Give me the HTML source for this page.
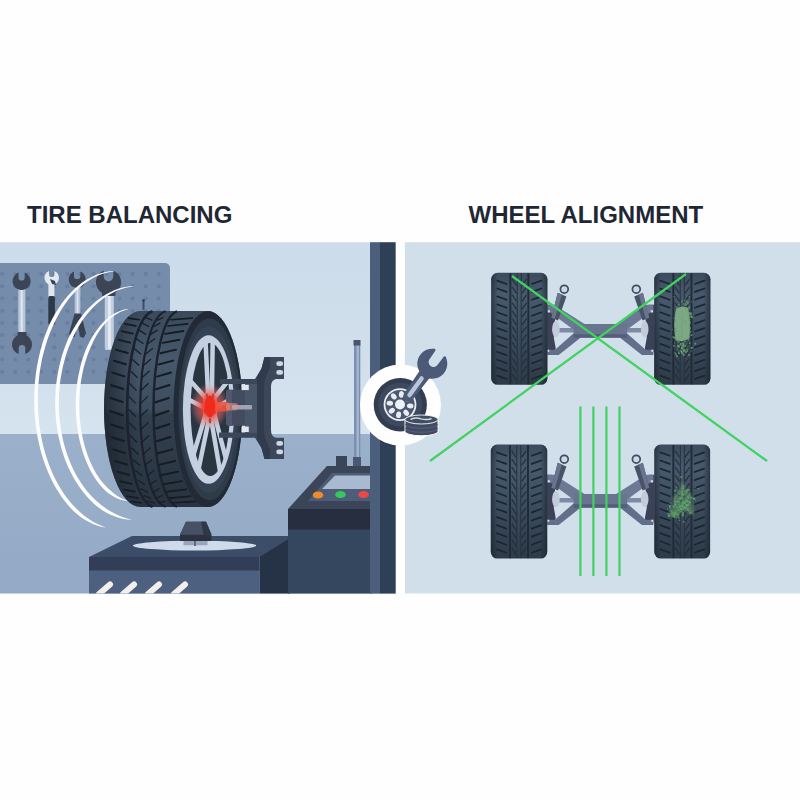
<!DOCTYPE html>
<html><head><meta charset="utf-8"><title>Tire Balancing vs Wheel Alignment</title>
<style>
html,body{margin:0;padding:0;background:#fefefe;}
body{width:800px;height:800px;overflow:hidden;position:relative;font-family:"Liberation Sans",sans-serif;}
svg{position:absolute;left:0;top:0;display:block}
.t{position:absolute;font-weight:700;font-size:24px;line-height:24px;color:#1f2735;white-space:nowrap;transform-origin:0 0;}
</style></head><body>
<svg width="800" height="800" viewBox="0 0 800 800">
<defs>
<radialGradient id="glow" cx="50%" cy="50%" r="50%">
<stop offset="0" stop-color="#ff2a1a" stop-opacity="1"/>
<stop offset="0.35" stop-color="#f2382c" stop-opacity="0.9"/>
<stop offset="0.7" stop-color="#ee6a62" stop-opacity="0.45"/>
<stop offset="1" stop-color="#ee8a84" stop-opacity="0"/>
</radialGradient>
<linearGradient id="wall" x1="0" y1="0" x2="0" y2="1"><stop offset="0" stop-color="#cddcea"/><stop offset="0.6" stop-color="#d1dfec"/><stop offset="1" stop-color="#d6e4f0"/></linearGradient>
<linearGradient id="floor" x1="0" y1="0" x2="0" y2="1"><stop offset="0" stop-color="#9bb0ca"/><stop offset="1" stop-color="#93a9c5"/></linearGradient>
<clipPath id="lp"><rect x="0" y="242.2" width="395.8" height="351.2"/></clipPath>
<clipPath id="rp"><rect x="404.7" y="242.2" width="396" height="351.2"/></clipPath>
<linearGradient id="tv" x1="0" y1="0" x2="0" y2="1"><stop offset="0" stop-color="#3c4c5d"/><stop offset="0.2" stop-color="#485a6e"/><stop offset="0.5" stop-color="#3d4e60"/><stop offset="1" stop-color="#2d3a47"/></linearGradient>
<linearGradient id="th" x1="0" y1="0" x2="1" y2="0"><stop offset="0" stop-color="#141b24" stop-opacity="0.55"/><stop offset="0.12" stop-color="#141b24" stop-opacity="0"/><stop offset="0.88" stop-color="#141b24" stop-opacity="0"/><stop offset="1" stop-color="#141b24" stop-opacity="0.55"/></linearGradient>
<filter id="soft" x="0" y="0" width="800" height="800" filterUnits="userSpaceOnUse"><feGaussianBlur stdDeviation="0.55"/></filter>
<filter id="b1"><feGaussianBlur stdDeviation="0.6"/></filter>
<filter id="b2"><feGaussianBlur stdDeviation="1.2"/></filter>
</defs>
<rect width="800" height="800" fill="#fefefe"/>
<g filter="url(#soft)">

<g clip-path="url(#lp)">
<rect x="0" y="242" width="396" height="192" fill="url(#wall)"/>
<rect x="0" y="434" width="396" height="161" fill="url(#floor)"/>
<path d="M0 263 H165 a5 5 0 0 1 5 5 V384 H0 Z" fill="#768cab"/>
<g fill="#677fa3"><circle cx="2.2" cy="274.0" r="2"/><circle cx="15.3" cy="274.0" r="2"/><circle cx="28.3" cy="274.0" r="2"/><circle cx="41.3" cy="274.0" r="2"/><circle cx="54.4" cy="274.0" r="2"/><circle cx="67.4" cy="274.0" r="2"/><circle cx="80.4" cy="274.0" r="2"/><circle cx="93.5" cy="274.0" r="2"/><circle cx="106.5" cy="274.0" r="2"/><circle cx="119.5" cy="274.0" r="2"/><circle cx="132.5" cy="274.0" r="2"/><circle cx="145.6" cy="274.0" r="2"/><circle cx="158.6" cy="274.0" r="2"/><circle cx="2.2" cy="286.2" r="2"/><circle cx="15.3" cy="286.2" r="2"/><circle cx="28.3" cy="286.2" r="2"/><circle cx="41.3" cy="286.2" r="2"/><circle cx="54.4" cy="286.2" r="2"/><circle cx="67.4" cy="286.2" r="2"/><circle cx="80.4" cy="286.2" r="2"/><circle cx="93.5" cy="286.2" r="2"/><circle cx="106.5" cy="286.2" r="2"/><circle cx="119.5" cy="286.2" r="2"/><circle cx="132.5" cy="286.2" r="2"/><circle cx="145.6" cy="286.2" r="2"/><circle cx="158.6" cy="286.2" r="2"/><circle cx="2.2" cy="298.4" r="2"/><circle cx="15.3" cy="298.4" r="2"/><circle cx="28.3" cy="298.4" r="2"/><circle cx="41.3" cy="298.4" r="2"/><circle cx="54.4" cy="298.4" r="2"/><circle cx="67.4" cy="298.4" r="2"/><circle cx="80.4" cy="298.4" r="2"/><circle cx="93.5" cy="298.4" r="2"/><circle cx="106.5" cy="298.4" r="2"/><circle cx="119.5" cy="298.4" r="2"/><circle cx="132.5" cy="298.4" r="2"/><circle cx="145.6" cy="298.4" r="2"/><circle cx="158.6" cy="298.4" r="2"/><circle cx="2.2" cy="310.7" r="2"/><circle cx="15.3" cy="310.7" r="2"/><circle cx="28.3" cy="310.7" r="2"/><circle cx="41.3" cy="310.7" r="2"/><circle cx="54.4" cy="310.7" r="2"/><circle cx="67.4" cy="310.7" r="2"/><circle cx="80.4" cy="310.7" r="2"/><circle cx="93.5" cy="310.7" r="2"/><circle cx="106.5" cy="310.7" r="2"/><circle cx="119.5" cy="310.7" r="2"/><circle cx="132.5" cy="310.7" r="2"/><circle cx="145.6" cy="310.7" r="2"/><circle cx="158.6" cy="310.7" r="2"/><circle cx="2.2" cy="322.9" r="2"/><circle cx="15.3" cy="322.9" r="2"/><circle cx="28.3" cy="322.9" r="2"/><circle cx="41.3" cy="322.9" r="2"/><circle cx="54.4" cy="322.9" r="2"/><circle cx="67.4" cy="322.9" r="2"/><circle cx="80.4" cy="322.9" r="2"/><circle cx="93.5" cy="322.9" r="2"/><circle cx="106.5" cy="322.9" r="2"/><circle cx="119.5" cy="322.9" r="2"/><circle cx="132.5" cy="322.9" r="2"/><circle cx="145.6" cy="322.9" r="2"/><circle cx="158.6" cy="322.9" r="2"/><circle cx="2.2" cy="335.1" r="2"/><circle cx="15.3" cy="335.1" r="2"/><circle cx="28.3" cy="335.1" r="2"/><circle cx="41.3" cy="335.1" r="2"/><circle cx="54.4" cy="335.1" r="2"/><circle cx="67.4" cy="335.1" r="2"/><circle cx="80.4" cy="335.1" r="2"/><circle cx="93.5" cy="335.1" r="2"/><circle cx="106.5" cy="335.1" r="2"/><circle cx="119.5" cy="335.1" r="2"/><circle cx="132.5" cy="335.1" r="2"/><circle cx="145.6" cy="335.1" r="2"/><circle cx="158.6" cy="335.1" r="2"/><circle cx="2.2" cy="347.3" r="2"/><circle cx="15.3" cy="347.3" r="2"/><circle cx="28.3" cy="347.3" r="2"/><circle cx="41.3" cy="347.3" r="2"/><circle cx="54.4" cy="347.3" r="2"/><circle cx="67.4" cy="347.3" r="2"/><circle cx="80.4" cy="347.3" r="2"/><circle cx="93.5" cy="347.3" r="2"/><circle cx="106.5" cy="347.3" r="2"/><circle cx="119.5" cy="347.3" r="2"/><circle cx="132.5" cy="347.3" r="2"/><circle cx="145.6" cy="347.3" r="2"/><circle cx="158.6" cy="347.3" r="2"/><circle cx="2.2" cy="359.5" r="2"/><circle cx="15.3" cy="359.5" r="2"/><circle cx="28.3" cy="359.5" r="2"/><circle cx="41.3" cy="359.5" r="2"/><circle cx="54.4" cy="359.5" r="2"/><circle cx="67.4" cy="359.5" r="2"/><circle cx="80.4" cy="359.5" r="2"/><circle cx="93.5" cy="359.5" r="2"/><circle cx="106.5" cy="359.5" r="2"/><circle cx="119.5" cy="359.5" r="2"/><circle cx="132.5" cy="359.5" r="2"/><circle cx="145.6" cy="359.5" r="2"/><circle cx="158.6" cy="359.5" r="2"/><circle cx="2.2" cy="371.8" r="2"/><circle cx="15.3" cy="371.8" r="2"/><circle cx="28.3" cy="371.8" r="2"/><circle cx="41.3" cy="371.8" r="2"/><circle cx="54.4" cy="371.8" r="2"/><circle cx="67.4" cy="371.8" r="2"/><circle cx="80.4" cy="371.8" r="2"/><circle cx="93.5" cy="371.8" r="2"/><circle cx="106.5" cy="371.8" r="2"/><circle cx="119.5" cy="371.8" r="2"/><circle cx="132.5" cy="371.8" r="2"/><circle cx="145.6" cy="371.8" r="2"/><circle cx="158.6" cy="371.8" r="2"/></g>
<rect x="18.3" y="288" width="7" height="46" fill="#b9c6d9"/><rect x="20.6" y="288" width="2.2" height="46" fill="#dde5ef"/>
<rect x="17.5" y="332" width="9" height="6" fill="#3b4557"/>
<path d="M18.5 272.6 A9 9 0 1 0 24.7 272.6 L24.7 277.4 A3.1 3.1 0 0 1 18.5 277.4 Z" fill="#3b4557"/>
<path d="M18.7 353.9 A10 10 0 1 1 25.3 353.9 L25.3 348.3 A3.3 3.3 0 0 0 18.7 348.3 Z" fill="#3b4557"/>
<rect x="48.4" y="283" width="6" height="16" fill="#dfe6ef"/>
<path d="M49.0 271.0 A7.3 7.3 0 1 0 54.4 271.0 L54.4 274.4 A2.7 2.7 0 0 1 49.0 274.4 Z" fill="#e4eaf2"/>
<path d="M50 279 l5 2 l1 4 l-4 -1 Z" fill="#3a4457"/>
<rect x="48.3" y="296" width="6.6" height="28.500" rx="1.500" fill="#2e3849"/>
<rect x="74.700" y="287" width="5.700" height="28" fill="#b3c1d6"/><rect x="76.600" y="287" width="1.800" height="28" fill="#d9e2ed"/>
<path d="M74.0 271.6 A8.5 8.5 0 1 0 80.4 271.6 L80.4 275.9 A3.2 3.2 0 0 1 74.0 275.9 Z" fill="#3b4557"/>
<path d="M74.500 313.500 h6.500 l5 20 l-2.500 4.500 l-3.500 -1.500 l-2.500 -14 l-2.500 14 l-3.500 1.500 l-2.500 -4.500 Z" fill="#394355"/>
<rect x="104.800" y="294" width="9" height="56" rx="1.500" fill="#c3cfe0"/><rect x="108" y="294" width="2.800" height="55" fill="#e4ebf3"/>
<rect x="102" y="289" width="13.500" height="7" rx="1" fill="#3b4557"/>
<path d="M103.7 270.4 A12.6 12.6 0 1 0 113.3 270.4 L113.3 276.6 A4.8 4.8 0 0 1 103.7 276.6 Z" fill="#3b4557"/>
<rect x="142.500" y="301" width="2" height="9" rx="1" fill="#434c60"/><circle cx="143.500" cy="300.500" r="1.300" fill="#2f394a"/>
<path d="M105.1 527.6 L101.1 526.8 L97.0 525.5 L93.0 524.0 L89.1 522.1 L85.2 519.9 L81.3 517.4 L77.6 514.6 L74.0 511.4 L70.6 507.9 L67.3 504.2 L64.1 500.2 L61.0 496.0 L58.1 491.5 L55.3 486.9 L52.7 482.0 L50.2 477.0 L47.9 471.7 L45.7 466.3 L43.7 460.7 L41.9 455.0 L40.3 449.2 L38.9 443.2 L37.6 437.2 L36.6 431.1 L35.7 424.8 L35.0 418.6 L34.5 412.2 L34.3 405.9 L34.2 399.5 L34.3 393.2 L34.6 386.8 L35.1 380.5 L35.8 374.3 L36.7 368.1 L37.8 361.9 L39.1 355.9 L40.5 350.0 L42.2 344.1 L44.0 338.5 L46.0 332.9 L48.2 327.5 L50.5 322.3 L53.1 317.3 L55.8 312.5 L58.7 307.9 L61.7 303.6 L64.8 299.4 L68.1 295.5 L71.4 291.9 L74.9 288.5 L78.5 285.5 L82.2 282.6 L86.0 280.1 L89.8 277.9 L93.7 275.9 L97.6 274.3 L101.6 273.0 L105.6 272.0 L109.7 271.3 L113.7 271.0 L113.7 271.4 L109.8 272.0 L105.8 272.9 L102.0 274.1 L98.1 275.6 L94.4 277.3 L90.6 279.4 L87.0 281.7 L83.4 284.3 L80.0 287.2 L76.6 290.3 L73.3 293.7 L70.1 297.3 L67.1 301.2 L64.2 305.3 L61.4 309.6 L58.7 314.2 L56.2 318.9 L53.8 323.9 L51.5 329.0 L49.4 334.2 L47.5 339.6 L45.7 345.2 L44.1 350.9 L42.6 356.7 L41.4 362.6 L40.3 368.6 L39.4 374.7 L38.7 380.9 L38.2 387.1 L37.9 393.3 L37.8 399.6 L37.9 405.8 L38.2 412.0 L38.7 418.2 L39.3 424.4 L40.2 430.5 L41.2 436.5 L42.4 442.5 L43.8 448.3 L45.4 454.0 L47.2 459.6 L49.1 465.0 L51.2 470.3 L53.5 475.4 L55.9 480.3 L58.5 485.1 L61.2 489.6 L64.0 493.9 L67.0 498.0 L70.0 501.8 L73.2 505.4 L76.5 508.8 L79.9 511.9 L83.3 514.9 L86.7 517.6 L90.3 520.0 L93.9 522.2 L97.6 524.1 L101.4 525.8 L105.2 527.2 Z" fill="#fdfdfd"/>
<path d="M130.9 519.7 L126.8 519.4 L122.7 518.7 L118.6 517.7 L114.6 516.3 L110.5 514.7 L106.6 512.7 L102.7 510.5 L98.9 507.8 L95.3 504.9 L91.8 501.7 L88.4 498.3 L85.2 494.6 L82.1 490.7 L79.1 486.6 L76.3 482.3 L73.6 477.7 L71.1 473.0 L68.7 468.2 L66.5 463.1 L64.5 457.9 L62.7 452.6 L61.1 447.2 L59.7 441.6 L58.4 436.0 L57.4 430.3 L56.5 424.5 L55.9 418.6 L55.5 412.8 L55.2 406.9 L55.2 400.9 L55.4 395.0 L55.7 389.1 L56.3 383.3 L57.1 377.5 L58.1 371.7 L59.3 366.1 L60.7 360.5 L62.2 355.0 L64.0 349.6 L65.9 344.4 L68.0 339.3 L70.3 334.4 L72.9 329.7 L75.6 325.2 L78.4 320.8 L81.4 316.7 L84.5 312.8 L87.8 309.1 L91.2 305.7 L94.7 302.5 L98.3 299.6 L102.0 296.9 L105.8 294.5 L109.6 292.4 L113.6 290.6 L117.5 289.1 L121.6 287.8 L125.6 286.9 L129.7 286.3 L133.7 286.0 L133.8 286.3 L129.8 286.9 L125.8 287.8 L121.9 288.9 L118.0 290.3 L114.2 292.0 L110.4 294.0 L106.8 296.2 L103.2 298.6 L99.7 301.4 L96.3 304.3 L93.0 307.5 L89.8 311.0 L86.8 314.6 L83.8 318.5 L81.1 322.6 L78.4 326.9 L75.9 331.4 L73.6 336.0 L71.4 340.8 L69.3 345.8 L67.4 350.8 L65.7 356.1 L64.2 361.4 L62.8 366.9 L61.7 372.4 L60.7 378.0 L59.9 383.7 L59.4 389.4 L59.0 395.2 L58.8 401.0 L58.9 406.8 L59.1 412.6 L59.5 418.3 L60.2 424.0 L61.0 429.7 L62.0 435.3 L63.2 440.8 L64.6 446.2 L66.2 451.5 L68.0 456.7 L69.9 461.8 L72.0 466.6 L74.3 471.4 L76.8 475.9 L79.4 480.3 L82.1 484.5 L85.0 488.5 L88.0 492.2 L91.1 495.8 L94.4 499.1 L97.7 502.1 L101.2 504.9 L104.7 507.5 L108.2 509.9 L111.8 512.1 L115.5 514.1 L119.3 515.8 L123.1 517.2 L127.0 518.4 L131.0 519.4 Z" fill="#fdfdfd"/>
<path d="M127.1 501.0 L124.3 500.6 L121.4 499.9 L118.6 498.9 L115.8 497.7 L113.1 496.3 L110.4 494.6 L107.7 492.7 L105.2 490.5 L102.7 488.0 L100.4 485.4 L98.1 482.5 L95.9 479.5 L93.8 476.3 L91.8 472.9 L89.9 469.4 L88.2 465.8 L86.5 462.0 L84.9 458.0 L83.4 454.0 L82.1 449.8 L80.9 445.6 L79.8 441.2 L78.8 436.7 L78.0 432.2 L77.3 427.6 L76.7 423.0 L76.3 418.3 L75.9 413.6 L75.8 408.9 L75.7 404.1 L75.8 399.4 L76.0 394.7 L76.4 390.0 L76.9 385.3 L77.5 380.7 L78.3 376.1 L79.2 371.7 L80.2 367.2 L81.3 362.9 L82.6 358.7 L84.0 354.5 L85.5 350.5 L87.1 346.7 L88.9 343.0 L90.8 339.4 L92.8 336.0 L94.9 332.7 L97.1 329.7 L99.3 326.8 L101.7 324.1 L104.1 321.6 L106.6 319.3 L109.1 317.2 L111.7 315.3 L114.4 313.6 L117.0 312.2 L119.8 311.0 L122.5 310.0 L125.3 309.3 L128.1 308.9 L128.1 309.2 L125.5 310.0 L122.8 310.9 L120.2 312.0 L117.7 313.4 L115.1 314.9 L112.7 316.7 L110.3 318.6 L107.9 320.8 L105.6 323.1 L103.4 325.6 L101.3 328.3 L99.2 331.2 L97.2 334.3 L95.4 337.5 L93.6 340.8 L91.9 344.4 L90.3 348.0 L88.8 351.8 L87.3 355.7 L86.0 359.7 L84.7 363.9 L83.6 368.1 L82.6 372.4 L81.8 376.8 L81.0 381.2 L80.4 385.8 L79.9 390.3 L79.6 394.9 L79.4 399.5 L79.3 404.2 L79.3 408.8 L79.5 413.4 L79.8 418.0 L80.2 422.6 L80.8 427.1 L81.5 431.6 L82.3 436.0 L83.3 440.4 L84.3 444.6 L85.5 448.8 L86.8 452.8 L88.2 456.8 L89.7 460.6 L91.4 464.3 L93.1 467.8 L94.9 471.2 L96.8 474.4 L98.8 477.5 L100.9 480.4 L103.1 483.1 L105.3 485.6 L107.6 487.9 L109.9 490.0 L112.2 492.1 L114.6 494.0 L117.0 495.7 L119.5 497.2 L122.0 498.5 L124.5 499.6 L127.2 500.6 Z" fill="#fdfdfd"/>
<path d="M89 557 L132 536 H292 V557 Z" fill="#3b4d69"/>
<path d="M259.5 557 L290 538 V595 H259.5 Z" fill="#263244"/>
<rect x="89" y="557" width="170.5" height="14" fill="#303e58"/>
<rect x="89" y="570.5" width="170.5" height="25" fill="#4e6080"/>
<ellipse cx="194.5" cy="545.6" rx="61.7" ry="4.9" fill="#cfdbe8"/>
<rect x="183.5" y="539" width="24" height="6.3" fill="#97a6bd"/><rect x="194" y="539" width="2" height="7" fill="#5d6a82"/>
<path d="M186 521.800 h20 l5.500 13 v6.200 h-31.500 v-6.200 Z" fill="#2b3341"/>
<path d="M186 521.800 h20 l5.500 13 h-31.500 Z" fill="#475166"/><path d="M201 521.800 h5 l5.500 13 h-8 Z" fill="#2f3745"/>
<path d="M99 594 L110 584.5" stroke="#f1f0ec" stroke-width="6" stroke-linecap="round"/>
<path d="M123 594 L134 584.5" stroke="#f1f0ec" stroke-width="6" stroke-linecap="round"/>
<path d="M148 594 L159 584.5" stroke="#f1f0ec" stroke-width="6" stroke-linecap="round"/>
<path d="M174 594 L185 584.5" stroke="#f1f0ec" stroke-width="6" stroke-linecap="round"/>
<rect x="354" y="345" width="6.3" height="125" fill="#7b8fae"/>
<rect x="356.5" y="345" width="2.4" height="125" fill="#a3b6cf"/>
<rect x="353.5" y="340" width="7" height="5.5" fill="#4b566e"/>
<rect x="336" y="456" width="11" height="11" fill="#3a4459"/>
<rect x="353" y="457" width="8" height="10" fill="#4b5873"/>
<path d="M288 509 L327 466 H372 V509 Z" fill="#3a4459"/>
<path d="M308 501 L332 473 H372 V501 Z" fill="#4e5b78"/>
<path d="M322 489 L335 475.5 H372 V489 Z" fill="#a9b9d0"/>
<ellipse cx="318" cy="495" rx="5.3" ry="3.6" fill="#f08a2c"/>
<ellipse cx="340.5" cy="494.5" rx="5.3" ry="3.6" fill="#35c85a"/>
<ellipse cx="363.5" cy="494.5" rx="5.3" ry="3.6" fill="#ec4a44"/>
<rect x="288" y="509" width="84" height="21" fill="#252f40"/>
<rect x="288" y="529.5" width="84" height="66" fill="#36465f"/>
<rect x="370" y="242" width="10.5" height="352" fill="#4b5e7b"/>
<rect x="380" y="242" width="16" height="352" fill="#2f4057"/>
<g>
<defs><linearGradient id="tg" x1="0" y1="0" x2="0" y2="1"><stop offset="0" stop-color="#3a4a5a"/><stop offset="0.25" stop-color="#47586c"/><stop offset="0.5" stop-color="#3d4d5e"/><stop offset="0.53" stop-color="#323f4e"/><stop offset="1" stop-color="#28333f"/></linearGradient><linearGradient id="tg2" x1="0" y1="0" x2="1" y2="0"><stop offset="0" stop-color="#1a222c" stop-opacity="0.75"/><stop offset="0.25" stop-color="#1a222c" stop-opacity="0"/><stop offset="1" stop-color="#1a222c" stop-opacity="0"/></linearGradient></defs>
<path d="M140 311 H208 A34.5 98 0 0 1 208 507 H140 A36 98 0 0 1 140 311 Z" fill="url(#tg)"/>
<path d="M140 311 H208 A34.5 98 0 0 1 208 507 H140 A36 98 0 0 1 140 311 Z" fill="url(#tg2)"/>
<path d="M152.5 311.3 A27.5 98 0 0 0 152.5 506.7" fill="none" stroke="#1a222d" stroke-width="2.6"/>
<path d="M165.5 311.3 A27.5 98 0 0 0 165.5 506.7" fill="none" stroke="#1a222d" stroke-width="2.2"/>
<path d="M177 311.3 A25.5 98 0 0 0 177 506.7" fill="none" stroke="#1a222d" stroke-width="2.4"/>
<path d="M128.4 318.1 L139.2 319.7" stroke="#131a23" stroke-width="1.6" stroke-linecap="round"/>
<path d="M145.2 317.3 L152.5 320.3" stroke="#18202a" stroke-width="1.3"/>
<path d="M156.9 320.3 L163.5 317.3" stroke="#18202a" stroke-width="1.3"/>
<path d="M171.0 319.8 L192.4 318.1" stroke="#131a23" stroke-width="1.6" stroke-linecap="round"/>
<path d="M124.9 323.9 L135.9 325.9" stroke="#131a23" stroke-width="1.7" stroke-linecap="round"/>
<path d="M141.9 322.9 L149.2 326.7" stroke="#18202a" stroke-width="1.3"/>
<path d="M153.6 326.7 L160.4 322.9" stroke="#18202a" stroke-width="1.3"/>
<path d="M167.9 326.0 L187.7 323.8" stroke="#131a23" stroke-width="1.7" stroke-linecap="round"/>
<path d="M121.6 331.2 L132.8 333.7" stroke="#131a23" stroke-width="1.8" stroke-linecap="round"/>
<path d="M138.8 329.9 L146.1 334.6" stroke="#18202a" stroke-width="1.3"/>
<path d="M150.5 334.6 L157.6 329.9" stroke="#18202a" stroke-width="1.3"/>
<path d="M165.1 333.8 L183.4 331.0" stroke="#131a23" stroke-width="1.8" stroke-linecap="round"/>
<path d="M118.7 339.8 L130.1 342.7" stroke="#131a23" stroke-width="1.9" stroke-linecap="round"/>
<path d="M136.1 338.4 L143.4 343.8" stroke="#18202a" stroke-width="1.3"/>
<path d="M147.8 343.8 L155.1 338.4" stroke="#18202a" stroke-width="1.3"/>
<path d="M162.6 342.9 L179.4 339.7" stroke="#131a23" stroke-width="1.9" stroke-linecap="round"/>
<path d="M116.1 349.8 L127.8 353.0" stroke="#131a23" stroke-width="1.9" stroke-linecap="round"/>
<path d="M133.8 348.2 L141.1 354.2" stroke="#18202a" stroke-width="1.3"/>
<path d="M145.5 354.2 L152.9 348.2" stroke="#18202a" stroke-width="1.3"/>
<path d="M160.4 353.2 L176.0 349.6" stroke="#131a23" stroke-width="1.9" stroke-linecap="round"/>
<path d="M114.0 360.8 L125.8 364.3" stroke="#131a23" stroke-width="2.0" stroke-linecap="round"/>
<path d="M131.8 359.0 L139.1 365.6" stroke="#18202a" stroke-width="1.3"/>
<path d="M143.5 365.6 L151.0 359.0" stroke="#18202a" stroke-width="1.3"/>
<path d="M158.5 364.5 L173.2 360.6" stroke="#131a23" stroke-width="2.0" stroke-linecap="round"/>
<path d="M112.4 372.6 L124.3 376.4" stroke="#131a23" stroke-width="2.0" stroke-linecap="round"/>
<path d="M130.3 370.8 L137.6 377.8" stroke="#18202a" stroke-width="1.3"/>
<path d="M142.0 377.8 L149.6 370.8" stroke="#18202a" stroke-width="1.3"/>
<path d="M157.1 376.6 L171.0 372.5" stroke="#131a23" stroke-width="2.0" stroke-linecap="round"/>
<path d="M111.2 385.2 L123.2 389.1" stroke="#131a23" stroke-width="2.1" stroke-linecap="round"/>
<path d="M129.2 383.2 L136.5 390.5" stroke="#18202a" stroke-width="1.3"/>
<path d="M140.9 390.5 L148.6 383.2" stroke="#18202a" stroke-width="1.3"/>
<path d="M156.1 389.3 L169.5 385.0" stroke="#131a23" stroke-width="2.1" stroke-linecap="round"/>
<path d="M110.6 398.1 L122.6 402.1" stroke="#131a23" stroke-width="2.1" stroke-linecap="round"/>
<path d="M128.6 396.1 L135.9 403.6" stroke="#18202a" stroke-width="1.3"/>
<path d="M140.3 403.6 L148.1 396.1" stroke="#18202a" stroke-width="1.3"/>
<path d="M155.6 402.3 L168.7 397.9" stroke="#131a23" stroke-width="2.1" stroke-linecap="round"/>
<path d="M110.5 411.3 L122.5 415.3" stroke="#131a23" stroke-width="2.1" stroke-linecap="round"/>
<path d="M128.5 409.3 L135.8 416.8" stroke="#18202a" stroke-width="1.3"/>
<path d="M140.2 416.8 L148.0 409.3" stroke="#18202a" stroke-width="1.3"/>
<path d="M155.5 415.5 L168.5 411.1" stroke="#131a23" stroke-width="2.1" stroke-linecap="round"/>
<path d="M111.0 424.4 L122.9 428.3" stroke="#131a23" stroke-width="2.1" stroke-linecap="round"/>
<path d="M128.9 422.4 L136.2 429.8" stroke="#18202a" stroke-width="1.3"/>
<path d="M140.6 429.8 L148.4 422.4" stroke="#18202a" stroke-width="1.3"/>
<path d="M155.9 428.5 L169.1 424.2" stroke="#131a23" stroke-width="2.1" stroke-linecap="round"/>
<path d="M111.9 437.2 L123.8 441.0" stroke="#131a23" stroke-width="2.1" stroke-linecap="round"/>
<path d="M129.8 435.3 L137.1 442.5" stroke="#18202a" stroke-width="1.3"/>
<path d="M141.5 442.5 L149.2 435.3" stroke="#18202a" stroke-width="1.3"/>
<path d="M156.7 441.2 L170.4 437.0" stroke="#131a23" stroke-width="2.1" stroke-linecap="round"/>
<path d="M113.4 449.5 L125.2 453.1" stroke="#131a23" stroke-width="2.0" stroke-linecap="round"/>
<path d="M131.2 447.7 L138.5 454.5" stroke="#18202a" stroke-width="1.3"/>
<path d="M142.9 454.5 L150.5 447.7" stroke="#18202a" stroke-width="1.3"/>
<path d="M158.0 453.3 L172.4 449.4" stroke="#131a23" stroke-width="2.0" stroke-linecap="round"/>
<path d="M115.3 461.1 L127.0 464.5" stroke="#131a23" stroke-width="2.0" stroke-linecap="round"/>
<path d="M133.0 459.5 L140.3 465.7" stroke="#18202a" stroke-width="1.3"/>
<path d="M144.7 465.7 L152.2 459.5" stroke="#18202a" stroke-width="1.3"/>
<path d="M159.7 464.6 L175.0 461.0" stroke="#131a23" stroke-width="2.0" stroke-linecap="round"/>
<path d="M117.7 471.8 L129.2 474.8" stroke="#131a23" stroke-width="1.9" stroke-linecap="round"/>
<path d="M135.2 470.3 L142.5 475.9" stroke="#18202a" stroke-width="1.3"/>
<path d="M146.9 475.9 L154.3 470.3" stroke="#18202a" stroke-width="1.3"/>
<path d="M161.8 475.0 L178.2 471.6" stroke="#131a23" stroke-width="1.9" stroke-linecap="round"/>
<path d="M120.5 481.3 L131.8 483.9" stroke="#131a23" stroke-width="1.8" stroke-linecap="round"/>
<path d="M137.8 480.0 L145.1 484.9" stroke="#18202a" stroke-width="1.3"/>
<path d="M149.5 484.9 L156.7 480.0" stroke="#18202a" stroke-width="1.3"/>
<path d="M164.2 484.1 L181.9 481.2" stroke="#131a23" stroke-width="1.8" stroke-linecap="round"/>
<path d="M123.7 489.5 L134.8 491.7" stroke="#131a23" stroke-width="1.7" stroke-linecap="round"/>
<path d="M140.8 488.4 L148.1 492.6" stroke="#18202a" stroke-width="1.3"/>
<path d="M152.5 492.6 L159.4 488.4" stroke="#18202a" stroke-width="1.3"/>
<path d="M166.9 491.8 L186.1 489.4" stroke="#131a23" stroke-width="1.7" stroke-linecap="round"/>
<path d="M127.1 496.3 L138.0 498.0" stroke="#131a23" stroke-width="1.6" stroke-linecap="round"/>
<path d="M144.0 495.4 L151.3 498.7" stroke="#18202a" stroke-width="1.3"/>
<path d="M155.7 498.7 L162.4 495.4" stroke="#18202a" stroke-width="1.3"/>
<path d="M169.9 498.1 L190.7 496.2" stroke="#131a23" stroke-width="1.6" stroke-linecap="round"/>
<path d="M131.0 501.5 L141.4 502.7" stroke="#131a23" stroke-width="1.5" stroke-linecap="round"/>
<path d="M147.4 500.8 L154.7 503.2" stroke="#18202a" stroke-width="1.3"/>
<path d="M159.1 503.2 L165.5 500.8" stroke="#18202a" stroke-width="1.3"/>
<path d="M173.0 502.8 L195.5 501.4" stroke="#131a23" stroke-width="1.5" stroke-linecap="round"/>
<ellipse cx="208" cy="409" rx="34.5" ry="98" fill="#222b37"/>
<ellipse cx="209.5" cy="409.2" rx="31" ry="91" fill="#2f3a49"/>
<ellipse cx="209" cy="409.5" rx="28.5" ry="83" fill="#364253"/>
<ellipse cx="208.6" cy="409.5" rx="25.7" ry="74.3" fill="#c4d0df"/>
<ellipse cx="210.3" cy="409.5" rx="19.7" ry="66.5" fill="#2a3443"/>
<clipPath id="rim"><ellipse cx="210" cy="409.5" rx="21" ry="68"/></clipPath>
<g clip-path="url(#rim)" stroke="#c4d0df" stroke-width="4.5" stroke-linecap="butt">
<path d="M208.1 395.0 L205.2 334.3"/>
<path d="M211.9 395.0 L212.8 334.3"/>
<path d="M213.8 398.6 L232.3 375.6"/>
<path d="M215.0 407.9 L234.6 397.0"/>
<path d="M214.2 413.9 L227.2 463.7"/>
<path d="M211.2 419.6 L221.0 476.9"/>
<path d="M208.8 419.6 L197.0 476.9"/>
<path d="M205.8 413.9 L190.8 463.7"/>
<path d="M205.0 407.9 L183.4 397.0"/>
<path d="M206.2 398.6 L185.7 375.6"/>
</g>
<ellipse cx="210" cy="407" rx="7.5" ry="17" fill="#c4d0df"/>
<ellipse cx="213.1" cy="396.1" rx="1.3" ry="2.8" fill="#3a3340"/>
<ellipse cx="214.9" cy="411.2" rx="1.3" ry="2.8" fill="#3a3340"/>
<ellipse cx="210.0" cy="420.5" rx="1.3" ry="2.8" fill="#3a3340"/>
<ellipse cx="205.1" cy="411.2" rx="1.3" ry="2.8" fill="#3a3340"/>
<ellipse cx="206.9" cy="396.1" rx="1.3" ry="2.8" fill="#3a3340"/>
</g>
<g>
<path d="M220 379 H255 L261.500 368.500 L264.500 357 H284 V379 H276 Q271 380 271 387 V430 Q271 437 276 437.700 H284 V459 H264.500 L261.500 448 L255 437.700 H219 V432.500 H247 V384 H220 Z" fill="#3d465a"/>
<path d="M264.500 357 H270 V368 Q264 378 264 388 V429 Q264 439 270 449 V459 H264.500 L261.500 448 L257 440 V377 L261.500 368.500 Z" fill="#333b4e"/>
<rect x="245" y="384" width="12" height="49" fill="#4a5469"/>
<path d="M226 392 Q226 389.800 229 389.800 H245 V425.800 H229 Q226 425.800 226 423 Z" fill="#434c5f"/>
<path d="M226 392 Q226 389.800 229 389.800 H232 V425.800 H229 Q226 425.800 226 423 Z" fill="#50596d"/>
<rect x="241.500" y="384.800" width="7.300" height="5.300" fill="#e0e7f0"/><rect x="241.500" y="426.500" width="7.300" height="5.500" fill="#e0e7f0"/>
<rect x="276.300" y="361.200" width="6.800" height="4.800" rx="2.200" fill="#cdd6e3"/><rect x="276.300" y="370" width="6.800" height="4.800" rx="2.200" fill="#cdd6e3"/>
<rect x="276.300" y="441" width="6.800" height="4.800" rx="2.200" fill="#cdd6e3"/><rect x="276.300" y="449.500" width="6.800" height="4.800" rx="2.200" fill="#cdd6e3"/>
<rect x="232" y="405" width="20" height="4.500" rx="1" fill="#a9adb9" opacity="0.9"/>
</g>
<ellipse cx="209.5" cy="406.5" rx="19" ry="23" fill="url(#glow)"/>
<rect x="208" y="402" width="22" height="9.5" rx="4" fill="#f0523f" opacity="0.85" filter="url(#b1)"/>
<rect x="226" y="403" width="12" height="7.5" rx="3" fill="#e8968c" opacity="0.55" filter="url(#b1)"/>
<ellipse cx="210" cy="406.5" rx="5.2" ry="11" fill="#f02c1e" filter="url(#b1)"/>
</g>
<g clip-path="url(#rp)">
<rect x="404" y="242" width="396" height="353" fill="#d1dfeb"/>
<path d="M546.0 304.8 L551.7 304.8 L555.0 309.3 L555.0 319.5 L553.8 337.5 L555.7 348.0 L555.0 352.2 L546.0 352.2 Z" fill="#3a4358"/>
<path d="M558.7 327.9 L575.2 327.9 L575.2 332.4 L558.7 332.4 Z" fill="#7d89a5"/>
<ellipse cx="555.9" cy="329.2" rx="3.8" ry="8.2" fill="#c1cbdb"/>
<path d="M547.2 304.8 L554.2 304.8 L585.0 324.3 L573.7 329.7 L547.2 310.2 Z" fill="#6c7894"/>
<path d="M573.7 333.3 L580.5 337.8 L558.7 354.9 L547.2 354.9 L547.2 349.8 L555.0 349.8 Z" fill="#626e8a"/>
<path d="M547.5 310.2 L549.9 310.2 L549.9 312.6 L547.5 312.6 Z" fill="#d8e0ea"/>
<path d="M547.2 349.8 L549.3 349.8 L549.3 351.7 L547.2 351.7 Z" fill="#d8e0ea"/>
<path d="M557.7 292.8 L566.4 296.4 L558.0 320.4 L551.4 317.7 Z" fill="#4a5368"/>
<path d="M557.7 292.8 L561.9 294.6 L554.7 319.0 L551.4 317.7 Z" fill="#6a748c"/>
<circle cx="564.3" cy="289.2" r="3.9" fill="#cdd8e6" stroke="#434c60" stroke-width="1.7"/>
<path d="M654.6 304.8 L648.9 304.8 L645.6 309.3 L645.6 319.5 L646.8 337.5 L644.9 348.0 L645.6 352.2 L654.6 352.2 Z" fill="#3a4358"/>
<path d="M641.9 327.9 L625.4 327.9 L625.4 332.4 L641.9 332.4 Z" fill="#7d89a5"/>
<ellipse cx="644.7" cy="329.2" rx="3.8" ry="8.2" fill="#c1cbdb"/>
<path d="M653.4 304.8 L646.4 304.8 L615.6 324.3 L626.9 329.7 L653.4 310.2 Z" fill="#6c7894"/>
<path d="M626.9 333.3 L620.1 337.8 L641.9 354.9 L653.4 354.9 L653.4 349.8 L645.6 349.8 Z" fill="#626e8a"/>
<path d="M653.1 310.2 L650.7 310.2 L650.7 312.6 L653.1 312.6 Z" fill="#d8e0ea"/>
<path d="M653.4 349.8 L651.3 349.8 L651.3 351.7 L653.4 351.7 Z" fill="#d8e0ea"/>
<path d="M642.9 292.8 L634.2 296.4 L642.6 320.4 L649.2 317.7 Z" fill="#4a5368"/>
<path d="M642.9 292.8 L638.7 294.6 L645.9 319.0 L649.2 317.7 Z" fill="#6a748c"/>
<circle cx="636.3" cy="289.2" r="3.9" fill="#cdd8e6" stroke="#434c60" stroke-width="1.7"/>
<path d="M573.7 324 H627 V337.5 H573.7 Z" fill="#69758f"/>
<path d="M573.7 334.3 H627 V337.8 H573.7 Z" fill="#535e78"/>
<path d="M546.0 474.8 L551.7 474.8 L555.0 479.3 L555.0 489.5 L553.8 507.5 L555.7 518.0 L555.0 522.2 L546.0 522.2 Z" fill="#3a4358"/>
<path d="M558.7 497.9 L575.2 497.9 L575.2 502.4 L558.7 502.4 Z" fill="#7d89a5"/>
<ellipse cx="555.9" cy="499.2" rx="3.8" ry="8.2" fill="#c1cbdb"/>
<path d="M547.2 474.8 L554.2 474.8 L585.0 494.3 L573.7 499.7 L547.2 480.2 Z" fill="#6c7894"/>
<path d="M573.7 503.3 L580.5 507.8 L558.7 524.9 L547.2 524.9 L547.2 519.8 L555.0 519.8 Z" fill="#626e8a"/>
<path d="M547.5 480.2 L549.9 480.2 L549.9 482.6 L547.5 482.6 Z" fill="#d8e0ea"/>
<path d="M547.2 519.8 L549.3 519.8 L549.3 521.7 L547.2 521.7 Z" fill="#d8e0ea"/>
<path d="M557.7 462.8 L566.4 466.4 L558.0 490.4 L551.4 487.7 Z" fill="#4a5368"/>
<path d="M557.7 462.8 L561.9 464.6 L554.7 489.0 L551.4 487.7 Z" fill="#6a748c"/>
<circle cx="564.3" cy="459.2" r="3.9" fill="#cdd8e6" stroke="#434c60" stroke-width="1.7"/>
<path d="M654.6 474.8 L648.9 474.8 L645.6 479.3 L645.6 489.5 L646.8 507.5 L644.9 518.0 L645.6 522.2 L654.6 522.2 Z" fill="#3a4358"/>
<path d="M641.9 497.9 L625.4 497.9 L625.4 502.4 L641.9 502.4 Z" fill="#7d89a5"/>
<ellipse cx="644.7" cy="499.2" rx="3.8" ry="8.2" fill="#c1cbdb"/>
<path d="M653.4 474.8 L646.4 474.8 L615.6 494.3 L626.9 499.7 L653.4 480.2 Z" fill="#6c7894"/>
<path d="M626.9 503.3 L620.1 507.8 L641.9 524.9 L653.4 524.9 L653.4 519.8 L645.6 519.8 Z" fill="#626e8a"/>
<path d="M653.1 480.2 L650.7 480.2 L650.7 482.6 L653.1 482.6 Z" fill="#d8e0ea"/>
<path d="M653.4 519.8 L651.3 519.8 L651.3 521.7 L653.4 521.7 Z" fill="#d8e0ea"/>
<path d="M642.9 462.8 L634.2 466.4 L642.6 490.4 L649.2 487.7 Z" fill="#4a5368"/>
<path d="M642.9 462.8 L638.7 464.6 L645.9 489.0 L649.2 487.7 Z" fill="#6a748c"/>
<circle cx="636.3" cy="459.2" r="3.9" fill="#cdd8e6" stroke="#434c60" stroke-width="1.7"/>
<path d="M573.7 494 H627 V507.5 H573.7 Z" fill="#69758f"/>
<path d="M573.7 504.3 H627 V507.8 H573.7 Z" fill="#535e78"/>
<g>
<rect x="491.2" y="272.8" width="56.2" height="112" rx="6.5" ry="6.5" fill="url(#tv)"/>
<rect x="491.2" y="272.8" width="56.2" height="112" rx="6.5" ry="6.5" fill="url(#th)"/>
<rect x="509.4" y="273.3" width="1.9" height="111" fill="#202a36"/>
<rect x="516.7" y="273.3" width="1.1" height="111" fill="#283341"/>
<rect x="520.7" y="273.3" width="1.1" height="111" fill="#283341"/>
<rect x="527.4" y="273.3" width="1.9" height="111" fill="#202a36"/>
<path d="M497.2 280.6 L506.7 284.0" stroke="#1c2530" stroke-width="1.7" stroke-linecap="round"/>
<path d="M541.4 280.6 L531.9 284.0" stroke="#1c2530" stroke-width="1.7" stroke-linecap="round"/>
<path d="M512.2 279.1 L516.4 285.5" stroke="#232d39" stroke-width="1.15"/>
<path d="M526.5 279.1 L522.0 285.5" stroke="#232d39" stroke-width="1.15"/>
<path d="M497.2 288.5 L506.7 291.9" stroke="#1c2530" stroke-width="1.7" stroke-linecap="round"/>
<path d="M541.4 288.5 L531.9 291.9" stroke="#1c2530" stroke-width="1.7" stroke-linecap="round"/>
<path d="M512.2 287.0 L516.4 293.4" stroke="#232d39" stroke-width="1.15"/>
<path d="M526.5 287.0 L522.0 293.4" stroke="#232d39" stroke-width="1.15"/>
<path d="M497.2 296.4 L506.7 299.8" stroke="#1c2530" stroke-width="1.7" stroke-linecap="round"/>
<path d="M541.4 296.4 L531.9 299.8" stroke="#1c2530" stroke-width="1.7" stroke-linecap="round"/>
<path d="M512.2 294.9 L516.4 301.3" stroke="#232d39" stroke-width="1.15"/>
<path d="M526.5 294.9 L522.0 301.3" stroke="#232d39" stroke-width="1.15"/>
<path d="M497.2 304.4 L506.7 307.8" stroke="#1c2530" stroke-width="1.7" stroke-linecap="round"/>
<path d="M541.4 304.4 L531.9 307.8" stroke="#1c2530" stroke-width="1.7" stroke-linecap="round"/>
<path d="M512.2 302.9 L516.4 309.2" stroke="#232d39" stroke-width="1.15"/>
<path d="M526.5 302.9 L522.0 309.2" stroke="#232d39" stroke-width="1.15"/>
<path d="M497.2 312.3 L506.7 315.7" stroke="#1c2530" stroke-width="1.7" stroke-linecap="round"/>
<path d="M541.4 312.3 L531.9 315.7" stroke="#1c2530" stroke-width="1.7" stroke-linecap="round"/>
<path d="M512.2 310.8 L516.4 317.2" stroke="#232d39" stroke-width="1.15"/>
<path d="M526.5 310.8 L522.0 317.2" stroke="#232d39" stroke-width="1.15"/>
<path d="M497.2 320.2 L506.7 323.6" stroke="#1c2530" stroke-width="1.7" stroke-linecap="round"/>
<path d="M541.4 320.2 L531.9 323.6" stroke="#1c2530" stroke-width="1.7" stroke-linecap="round"/>
<path d="M512.2 318.7 L516.4 325.1" stroke="#232d39" stroke-width="1.15"/>
<path d="M526.5 318.7 L522.0 325.1" stroke="#232d39" stroke-width="1.15"/>
<path d="M497.2 328.1 L506.7 331.5" stroke="#1c2530" stroke-width="1.7" stroke-linecap="round"/>
<path d="M541.4 328.1 L531.9 331.5" stroke="#1c2530" stroke-width="1.7" stroke-linecap="round"/>
<path d="M512.2 326.6 L516.4 333.0" stroke="#232d39" stroke-width="1.15"/>
<path d="M526.5 326.6 L522.0 333.0" stroke="#232d39" stroke-width="1.15"/>
<path d="M497.2 336.0 L506.7 339.4" stroke="#1c2530" stroke-width="1.7" stroke-linecap="round"/>
<path d="M541.4 336.0 L531.9 339.4" stroke="#1c2530" stroke-width="1.7" stroke-linecap="round"/>
<path d="M512.2 334.5 L516.4 340.9" stroke="#232d39" stroke-width="1.15"/>
<path d="M526.5 334.5 L522.0 340.9" stroke="#232d39" stroke-width="1.15"/>
<path d="M497.2 343.9 L506.7 347.3" stroke="#1c2530" stroke-width="1.7" stroke-linecap="round"/>
<path d="M541.4 343.9 L531.9 347.3" stroke="#1c2530" stroke-width="1.7" stroke-linecap="round"/>
<path d="M512.2 342.4 L516.4 348.8" stroke="#232d39" stroke-width="1.15"/>
<path d="M526.5 342.4 L522.0 348.8" stroke="#232d39" stroke-width="1.15"/>
<path d="M497.2 351.9 L506.7 355.2" stroke="#1c2530" stroke-width="1.7" stroke-linecap="round"/>
<path d="M541.4 351.9 L531.9 355.2" stroke="#1c2530" stroke-width="1.7" stroke-linecap="round"/>
<path d="M512.2 350.4 L516.4 356.8" stroke="#232d39" stroke-width="1.15"/>
<path d="M526.5 350.4 L522.0 356.8" stroke="#232d39" stroke-width="1.15"/>
<path d="M497.2 359.8 L506.7 363.2" stroke="#1c2530" stroke-width="1.7" stroke-linecap="round"/>
<path d="M541.4 359.8 L531.9 363.2" stroke="#1c2530" stroke-width="1.7" stroke-linecap="round"/>
<path d="M512.2 358.3 L516.4 364.7" stroke="#232d39" stroke-width="1.15"/>
<path d="M526.5 358.3 L522.0 364.7" stroke="#232d39" stroke-width="1.15"/>
<path d="M497.2 367.7 L506.7 371.1" stroke="#1c2530" stroke-width="1.7" stroke-linecap="round"/>
<path d="M541.4 367.7 L531.9 371.1" stroke="#1c2530" stroke-width="1.7" stroke-linecap="round"/>
<path d="M512.2 366.2 L516.4 372.6" stroke="#232d39" stroke-width="1.15"/>
<path d="M526.5 366.2 L522.0 372.6" stroke="#232d39" stroke-width="1.15"/>
<path d="M497.2 375.6 L506.7 379.0" stroke="#1c2530" stroke-width="1.7" stroke-linecap="round"/>
<path d="M541.4 375.6 L531.9 379.0" stroke="#1c2530" stroke-width="1.7" stroke-linecap="round"/>
<path d="M512.2 374.1 L516.4 380.5" stroke="#232d39" stroke-width="1.15"/>
<path d="M526.5 374.1 L522.0 380.5" stroke="#232d39" stroke-width="1.15"/>
</g>
<g>
<rect x="654.2" y="272.8" width="56.2" height="112" rx="6.5" ry="6.5" fill="url(#tv)"/>
<rect x="654.2" y="272.8" width="56.2" height="112" rx="6.5" ry="6.5" fill="url(#th)"/>
<rect x="672.4" y="273.3" width="1.9" height="111" fill="#202a36"/>
<rect x="679.7" y="273.3" width="1.1" height="111" fill="#283341"/>
<rect x="683.7" y="273.3" width="1.1" height="111" fill="#283341"/>
<rect x="690.5" y="273.3" width="1.9" height="111" fill="#202a36"/>
<path d="M660.2 280.6 L669.7 284.0" stroke="#1c2530" stroke-width="1.7" stroke-linecap="round"/>
<path d="M704.4 280.6 L694.9 284.0" stroke="#1c2530" stroke-width="1.7" stroke-linecap="round"/>
<path d="M675.2 279.1 L679.4 285.5" stroke="#232d39" stroke-width="1.15"/>
<path d="M689.5 279.1 L685.0 285.5" stroke="#232d39" stroke-width="1.15"/>
<path d="M660.2 288.5 L669.7 291.9" stroke="#1c2530" stroke-width="1.7" stroke-linecap="round"/>
<path d="M704.4 288.5 L694.9 291.9" stroke="#1c2530" stroke-width="1.7" stroke-linecap="round"/>
<path d="M675.2 287.0 L679.4 293.4" stroke="#232d39" stroke-width="1.15"/>
<path d="M689.5 287.0 L685.0 293.4" stroke="#232d39" stroke-width="1.15"/>
<path d="M660.2 296.4 L669.7 299.8" stroke="#1c2530" stroke-width="1.7" stroke-linecap="round"/>
<path d="M704.4 296.4 L694.9 299.8" stroke="#1c2530" stroke-width="1.7" stroke-linecap="round"/>
<path d="M675.2 294.9 L679.4 301.3" stroke="#232d39" stroke-width="1.15"/>
<path d="M689.5 294.9 L685.0 301.3" stroke="#232d39" stroke-width="1.15"/>
<path d="M660.2 304.4 L669.7 307.8" stroke="#1c2530" stroke-width="1.7" stroke-linecap="round"/>
<path d="M704.4 304.4 L694.9 307.8" stroke="#1c2530" stroke-width="1.7" stroke-linecap="round"/>
<path d="M675.2 302.9 L679.4 309.2" stroke="#232d39" stroke-width="1.15"/>
<path d="M689.5 302.9 L685.0 309.2" stroke="#232d39" stroke-width="1.15"/>
<path d="M660.2 312.3 L669.7 315.7" stroke="#1c2530" stroke-width="1.7" stroke-linecap="round"/>
<path d="M704.4 312.3 L694.9 315.7" stroke="#1c2530" stroke-width="1.7" stroke-linecap="round"/>
<path d="M675.2 310.8 L679.4 317.2" stroke="#232d39" stroke-width="1.15"/>
<path d="M689.5 310.8 L685.0 317.2" stroke="#232d39" stroke-width="1.15"/>
<path d="M660.2 320.2 L669.7 323.6" stroke="#1c2530" stroke-width="1.7" stroke-linecap="round"/>
<path d="M704.4 320.2 L694.9 323.6" stroke="#1c2530" stroke-width="1.7" stroke-linecap="round"/>
<path d="M675.2 318.7 L679.4 325.1" stroke="#232d39" stroke-width="1.15"/>
<path d="M689.5 318.7 L685.0 325.1" stroke="#232d39" stroke-width="1.15"/>
<path d="M660.2 328.1 L669.7 331.5" stroke="#1c2530" stroke-width="1.7" stroke-linecap="round"/>
<path d="M704.4 328.1 L694.9 331.5" stroke="#1c2530" stroke-width="1.7" stroke-linecap="round"/>
<path d="M675.2 326.6 L679.4 333.0" stroke="#232d39" stroke-width="1.15"/>
<path d="M689.5 326.6 L685.0 333.0" stroke="#232d39" stroke-width="1.15"/>
<path d="M660.2 336.0 L669.7 339.4" stroke="#1c2530" stroke-width="1.7" stroke-linecap="round"/>
<path d="M704.4 336.0 L694.9 339.4" stroke="#1c2530" stroke-width="1.7" stroke-linecap="round"/>
<path d="M675.2 334.5 L679.4 340.9" stroke="#232d39" stroke-width="1.15"/>
<path d="M689.5 334.5 L685.0 340.9" stroke="#232d39" stroke-width="1.15"/>
<path d="M660.2 343.9 L669.7 347.3" stroke="#1c2530" stroke-width="1.7" stroke-linecap="round"/>
<path d="M704.4 343.9 L694.9 347.3" stroke="#1c2530" stroke-width="1.7" stroke-linecap="round"/>
<path d="M675.2 342.4 L679.4 348.8" stroke="#232d39" stroke-width="1.15"/>
<path d="M689.5 342.4 L685.0 348.8" stroke="#232d39" stroke-width="1.15"/>
<path d="M660.2 351.9 L669.7 355.2" stroke="#1c2530" stroke-width="1.7" stroke-linecap="round"/>
<path d="M704.4 351.9 L694.9 355.2" stroke="#1c2530" stroke-width="1.7" stroke-linecap="round"/>
<path d="M675.2 350.4 L679.4 356.8" stroke="#232d39" stroke-width="1.15"/>
<path d="M689.5 350.4 L685.0 356.8" stroke="#232d39" stroke-width="1.15"/>
<path d="M660.2 359.8 L669.7 363.2" stroke="#1c2530" stroke-width="1.7" stroke-linecap="round"/>
<path d="M704.4 359.8 L694.9 363.2" stroke="#1c2530" stroke-width="1.7" stroke-linecap="round"/>
<path d="M675.2 358.3 L679.4 364.7" stroke="#232d39" stroke-width="1.15"/>
<path d="M689.5 358.3 L685.0 364.7" stroke="#232d39" stroke-width="1.15"/>
<path d="M660.2 367.7 L669.7 371.1" stroke="#1c2530" stroke-width="1.7" stroke-linecap="round"/>
<path d="M704.4 367.7 L694.9 371.1" stroke="#1c2530" stroke-width="1.7" stroke-linecap="round"/>
<path d="M675.2 366.2 L679.4 372.6" stroke="#232d39" stroke-width="1.15"/>
<path d="M689.5 366.2 L685.0 372.6" stroke="#232d39" stroke-width="1.15"/>
<path d="M660.2 375.6 L669.7 379.0" stroke="#1c2530" stroke-width="1.7" stroke-linecap="round"/>
<path d="M704.4 375.6 L694.9 379.0" stroke="#1c2530" stroke-width="1.7" stroke-linecap="round"/>
<path d="M675.2 374.1 L679.4 380.5" stroke="#232d39" stroke-width="1.15"/>
<path d="M689.5 374.1 L685.0 380.5" stroke="#232d39" stroke-width="1.15"/>
</g>
<g>
<rect x="490.8" y="444.6" width="56.4" height="114" rx="6.5" ry="6.5" fill="url(#tv)"/>
<rect x="490.8" y="444.6" width="56.4" height="114" rx="6.5" ry="6.5" fill="url(#th)"/>
<rect x="509.0" y="445.1" width="1.9" height="113" fill="#202a36"/>
<rect x="516.2" y="445.1" width="1.1" height="113" fill="#283341"/>
<rect x="520.2" y="445.1" width="1.1" height="113" fill="#283341"/>
<rect x="527.0" y="445.1" width="1.9" height="113" fill="#202a36"/>
<path d="M496.8 452.4 L506.3 455.8" stroke="#1c2530" stroke-width="1.7" stroke-linecap="round"/>
<path d="M541.2 452.4 L531.7 455.8" stroke="#1c2530" stroke-width="1.7" stroke-linecap="round"/>
<path d="M511.8 450.9 L516.0 457.3" stroke="#232d39" stroke-width="1.15"/>
<path d="M526.1 450.9 L521.6 457.3" stroke="#232d39" stroke-width="1.15"/>
<path d="M496.8 460.5 L506.3 463.9" stroke="#1c2530" stroke-width="1.7" stroke-linecap="round"/>
<path d="M541.2 460.5 L531.7 463.9" stroke="#1c2530" stroke-width="1.7" stroke-linecap="round"/>
<path d="M511.8 459.0 L516.0 465.4" stroke="#232d39" stroke-width="1.15"/>
<path d="M526.1 459.0 L521.6 465.4" stroke="#232d39" stroke-width="1.15"/>
<path d="M496.8 468.6 L506.3 472.0" stroke="#1c2530" stroke-width="1.7" stroke-linecap="round"/>
<path d="M541.2 468.6 L531.7 472.0" stroke="#1c2530" stroke-width="1.7" stroke-linecap="round"/>
<path d="M511.8 467.1 L516.0 473.5" stroke="#232d39" stroke-width="1.15"/>
<path d="M526.1 467.1 L521.6 473.5" stroke="#232d39" stroke-width="1.15"/>
<path d="M496.8 476.7 L506.3 480.1" stroke="#1c2530" stroke-width="1.7" stroke-linecap="round"/>
<path d="M541.2 476.7 L531.7 480.1" stroke="#1c2530" stroke-width="1.7" stroke-linecap="round"/>
<path d="M511.8 475.2 L516.0 481.6" stroke="#232d39" stroke-width="1.15"/>
<path d="M526.1 475.2 L521.6 481.6" stroke="#232d39" stroke-width="1.15"/>
<path d="M496.8 484.7 L506.3 488.1" stroke="#1c2530" stroke-width="1.7" stroke-linecap="round"/>
<path d="M541.2 484.7 L531.7 488.1" stroke="#1c2530" stroke-width="1.7" stroke-linecap="round"/>
<path d="M511.8 483.2 L516.0 489.6" stroke="#232d39" stroke-width="1.15"/>
<path d="M526.1 483.2 L521.6 489.6" stroke="#232d39" stroke-width="1.15"/>
<path d="M496.8 492.8 L506.3 496.2" stroke="#1c2530" stroke-width="1.7" stroke-linecap="round"/>
<path d="M541.2 492.8 L531.7 496.2" stroke="#1c2530" stroke-width="1.7" stroke-linecap="round"/>
<path d="M511.8 491.3 L516.0 497.7" stroke="#232d39" stroke-width="1.15"/>
<path d="M526.1 491.3 L521.6 497.7" stroke="#232d39" stroke-width="1.15"/>
<path d="M496.8 500.9 L506.3 504.3" stroke="#1c2530" stroke-width="1.7" stroke-linecap="round"/>
<path d="M541.2 500.9 L531.7 504.3" stroke="#1c2530" stroke-width="1.7" stroke-linecap="round"/>
<path d="M511.8 499.4 L516.0 505.8" stroke="#232d39" stroke-width="1.15"/>
<path d="M526.1 499.4 L521.6 505.8" stroke="#232d39" stroke-width="1.15"/>
<path d="M496.8 509.0 L506.3 512.4" stroke="#1c2530" stroke-width="1.7" stroke-linecap="round"/>
<path d="M541.2 509.0 L531.7 512.4" stroke="#1c2530" stroke-width="1.7" stroke-linecap="round"/>
<path d="M511.8 507.5 L516.0 513.9" stroke="#232d39" stroke-width="1.15"/>
<path d="M526.1 507.5 L521.6 513.9" stroke="#232d39" stroke-width="1.15"/>
<path d="M496.8 517.1 L506.3 520.5" stroke="#1c2530" stroke-width="1.7" stroke-linecap="round"/>
<path d="M541.2 517.1 L531.7 520.5" stroke="#1c2530" stroke-width="1.7" stroke-linecap="round"/>
<path d="M511.8 515.6 L516.0 522.0" stroke="#232d39" stroke-width="1.15"/>
<path d="M526.1 515.6 L521.6 522.0" stroke="#232d39" stroke-width="1.15"/>
<path d="M496.8 525.1 L506.3 528.6" stroke="#1c2530" stroke-width="1.7" stroke-linecap="round"/>
<path d="M541.2 525.1 L531.7 528.6" stroke="#1c2530" stroke-width="1.7" stroke-linecap="round"/>
<path d="M511.8 523.6 L516.0 530.1" stroke="#232d39" stroke-width="1.15"/>
<path d="M526.1 523.6 L521.6 530.1" stroke="#232d39" stroke-width="1.15"/>
<path d="M496.8 533.2 L506.3 536.6" stroke="#1c2530" stroke-width="1.7" stroke-linecap="round"/>
<path d="M541.2 533.2 L531.7 536.6" stroke="#1c2530" stroke-width="1.7" stroke-linecap="round"/>
<path d="M511.8 531.7 L516.0 538.1" stroke="#232d39" stroke-width="1.15"/>
<path d="M526.1 531.7 L521.6 538.1" stroke="#232d39" stroke-width="1.15"/>
<path d="M496.8 541.3 L506.3 544.7" stroke="#1c2530" stroke-width="1.7" stroke-linecap="round"/>
<path d="M541.2 541.3 L531.7 544.7" stroke="#1c2530" stroke-width="1.7" stroke-linecap="round"/>
<path d="M511.8 539.8 L516.0 546.2" stroke="#232d39" stroke-width="1.15"/>
<path d="M526.1 539.8 L521.6 546.2" stroke="#232d39" stroke-width="1.15"/>
<path d="M496.8 549.4 L506.3 552.8" stroke="#1c2530" stroke-width="1.7" stroke-linecap="round"/>
<path d="M541.2 549.4 L531.7 552.8" stroke="#1c2530" stroke-width="1.7" stroke-linecap="round"/>
<path d="M511.8 547.9 L516.0 554.3" stroke="#232d39" stroke-width="1.15"/>
<path d="M526.1 547.9 L521.6 554.3" stroke="#232d39" stroke-width="1.15"/>
</g>
<g>
<rect x="654.3" y="444.6" width="55.8" height="114" rx="6.5" ry="6.5" fill="url(#tv)"/>
<rect x="654.3" y="444.6" width="55.8" height="114" rx="6.5" ry="6.5" fill="url(#th)"/>
<rect x="672.4" y="445.1" width="1.9" height="113" fill="#202a36"/>
<rect x="679.8" y="445.1" width="1.1" height="113" fill="#283341"/>
<rect x="683.8" y="445.1" width="1.1" height="113" fill="#283341"/>
<rect x="690.5" y="445.1" width="1.9" height="113" fill="#202a36"/>
<path d="M660.3 452.4 L669.8 455.8" stroke="#1c2530" stroke-width="1.7" stroke-linecap="round"/>
<path d="M704.1 452.4 L694.6 455.8" stroke="#1c2530" stroke-width="1.7" stroke-linecap="round"/>
<path d="M675.3 450.9 L679.5 457.3" stroke="#232d39" stroke-width="1.15"/>
<path d="M689.6 450.9 L685.1 457.3" stroke="#232d39" stroke-width="1.15"/>
<path d="M660.3 460.5 L669.8 463.9" stroke="#1c2530" stroke-width="1.7" stroke-linecap="round"/>
<path d="M704.1 460.5 L694.6 463.9" stroke="#1c2530" stroke-width="1.7" stroke-linecap="round"/>
<path d="M675.3 459.0 L679.5 465.4" stroke="#232d39" stroke-width="1.15"/>
<path d="M689.6 459.0 L685.1 465.4" stroke="#232d39" stroke-width="1.15"/>
<path d="M660.3 468.6 L669.8 472.0" stroke="#1c2530" stroke-width="1.7" stroke-linecap="round"/>
<path d="M704.1 468.6 L694.6 472.0" stroke="#1c2530" stroke-width="1.7" stroke-linecap="round"/>
<path d="M675.3 467.1 L679.5 473.5" stroke="#232d39" stroke-width="1.15"/>
<path d="M689.6 467.1 L685.1 473.5" stroke="#232d39" stroke-width="1.15"/>
<path d="M660.3 476.7 L669.8 480.1" stroke="#1c2530" stroke-width="1.7" stroke-linecap="round"/>
<path d="M704.1 476.7 L694.6 480.1" stroke="#1c2530" stroke-width="1.7" stroke-linecap="round"/>
<path d="M675.3 475.2 L679.5 481.6" stroke="#232d39" stroke-width="1.15"/>
<path d="M689.6 475.2 L685.1 481.6" stroke="#232d39" stroke-width="1.15"/>
<path d="M660.3 484.7 L669.8 488.1" stroke="#1c2530" stroke-width="1.7" stroke-linecap="round"/>
<path d="M704.1 484.7 L694.6 488.1" stroke="#1c2530" stroke-width="1.7" stroke-linecap="round"/>
<path d="M675.3 483.2 L679.5 489.6" stroke="#232d39" stroke-width="1.15"/>
<path d="M689.6 483.2 L685.1 489.6" stroke="#232d39" stroke-width="1.15"/>
<path d="M660.3 492.8 L669.8 496.2" stroke="#1c2530" stroke-width="1.7" stroke-linecap="round"/>
<path d="M704.1 492.8 L694.6 496.2" stroke="#1c2530" stroke-width="1.7" stroke-linecap="round"/>
<path d="M675.3 491.3 L679.5 497.7" stroke="#232d39" stroke-width="1.15"/>
<path d="M689.6 491.3 L685.1 497.7" stroke="#232d39" stroke-width="1.15"/>
<path d="M660.3 500.9 L669.8 504.3" stroke="#1c2530" stroke-width="1.7" stroke-linecap="round"/>
<path d="M704.1 500.9 L694.6 504.3" stroke="#1c2530" stroke-width="1.7" stroke-linecap="round"/>
<path d="M675.3 499.4 L679.5 505.8" stroke="#232d39" stroke-width="1.15"/>
<path d="M689.6 499.4 L685.1 505.8" stroke="#232d39" stroke-width="1.15"/>
<path d="M660.3 509.0 L669.8 512.4" stroke="#1c2530" stroke-width="1.7" stroke-linecap="round"/>
<path d="M704.1 509.0 L694.6 512.4" stroke="#1c2530" stroke-width="1.7" stroke-linecap="round"/>
<path d="M675.3 507.5 L679.5 513.9" stroke="#232d39" stroke-width="1.15"/>
<path d="M689.6 507.5 L685.1 513.9" stroke="#232d39" stroke-width="1.15"/>
<path d="M660.3 517.1 L669.8 520.5" stroke="#1c2530" stroke-width="1.7" stroke-linecap="round"/>
<path d="M704.1 517.1 L694.6 520.5" stroke="#1c2530" stroke-width="1.7" stroke-linecap="round"/>
<path d="M675.3 515.6 L679.5 522.0" stroke="#232d39" stroke-width="1.15"/>
<path d="M689.6 515.6 L685.1 522.0" stroke="#232d39" stroke-width="1.15"/>
<path d="M660.3 525.1 L669.8 528.6" stroke="#1c2530" stroke-width="1.7" stroke-linecap="round"/>
<path d="M704.1 525.1 L694.6 528.6" stroke="#1c2530" stroke-width="1.7" stroke-linecap="round"/>
<path d="M675.3 523.6 L679.5 530.1" stroke="#232d39" stroke-width="1.15"/>
<path d="M689.6 523.6 L685.1 530.1" stroke="#232d39" stroke-width="1.15"/>
<path d="M660.3 533.2 L669.8 536.6" stroke="#1c2530" stroke-width="1.7" stroke-linecap="round"/>
<path d="M704.1 533.2 L694.6 536.6" stroke="#1c2530" stroke-width="1.7" stroke-linecap="round"/>
<path d="M675.3 531.7 L679.5 538.1" stroke="#232d39" stroke-width="1.15"/>
<path d="M689.6 531.7 L685.1 538.1" stroke="#232d39" stroke-width="1.15"/>
<path d="M660.3 541.3 L669.8 544.7" stroke="#1c2530" stroke-width="1.7" stroke-linecap="round"/>
<path d="M704.1 541.3 L694.6 544.7" stroke="#1c2530" stroke-width="1.7" stroke-linecap="round"/>
<path d="M675.3 539.8 L679.5 546.2" stroke="#232d39" stroke-width="1.15"/>
<path d="M689.6 539.8 L685.1 546.2" stroke="#232d39" stroke-width="1.15"/>
<path d="M660.3 549.4 L669.8 552.8" stroke="#1c2530" stroke-width="1.7" stroke-linecap="round"/>
<path d="M704.1 549.4 L694.6 552.8" stroke="#1c2530" stroke-width="1.7" stroke-linecap="round"/>
<path d="M675.3 547.9 L679.5 554.3" stroke="#232d39" stroke-width="1.15"/>
<path d="M689.6 547.9 L685.1 554.3" stroke="#232d39" stroke-width="1.15"/>
</g>
<g>
<path d="M676 309 Q681 305 688 308 Q691 320 689.500 338 Q684 343 675.500 340 Q673 322 676 309 Z" fill="#84b189" opacity="0.92" filter="url(#b1)"/>
<rect x="680.8" y="350.3" width="1.5" height="1.5" fill="#6aa572" opacity="0.8"/><rect x="687.0" y="350.5" width="1.2" height="1.2" fill="#6aa572" opacity="0.8"/><rect x="687.0" y="349.9" width="0.8" height="0.8" fill="#6aa572" opacity="0.8"/><rect x="680.4" y="348.7" width="0.9" height="0.9" fill="#6aa572" opacity="0.8"/><rect x="674.5" y="351.8" width="0.9" height="0.9" fill="#6aa572" opacity="0.8"/><rect x="683.1" y="354.2" width="1.7" height="1.7" fill="#6aa572" opacity="0.8"/><rect x="678.0" y="345.9" width="1.8" height="1.8" fill="#6aa572" opacity="0.8"/><rect x="690.5" y="350.6" width="1.1" height="1.1" fill="#6aa572" opacity="0.8"/><rect x="683.4" y="349.8" width="1.1" height="1.1" fill="#6aa572" opacity="0.8"/><rect x="683.1" y="345.4" width="1.4" height="1.4" fill="#6aa572" opacity="0.8"/><rect x="679.2" y="344.7" width="1.3" height="1.3" fill="#6aa572" opacity="0.8"/><rect x="683.5" y="348.6" width="1.0" height="1.0" fill="#6aa572" opacity="0.8"/><rect x="680.0" y="343.7" width="1.1" height="1.1" fill="#6aa572" opacity="0.8"/><rect x="677.8" y="345.5" width="1.1" height="1.1" fill="#6aa572" opacity="0.8"/><rect x="683.9" y="341.3" width="1.0" height="1.0" fill="#6aa572" opacity="0.8"/><rect x="677.1" y="345.5" width="1.7" height="1.7" fill="#6aa572" opacity="0.8"/><rect x="681.5" y="344.3" width="1.8" height="1.8" fill="#6aa572" opacity="0.8"/><rect x="685.5" y="351.2" width="1.6" height="1.6" fill="#6aa572" opacity="0.8"/><rect x="685.0" y="352.3" width="0.8" height="0.8" fill="#6aa572" opacity="0.8"/><rect x="678.2" y="341.3" width="1.4" height="1.4" fill="#6aa572" opacity="0.8"/><rect x="684.8" y="345.2" width="1.5" height="1.5" fill="#6aa572" opacity="0.8"/><rect x="677.1" y="344.7" width="1.3" height="1.3" fill="#6aa572" opacity="0.8"/><rect x="687.8" y="338.9" width="1.3" height="1.3" fill="#6aa572" opacity="0.8"/><rect x="681.2" y="346.6" width="1.5" height="1.5" fill="#6aa572" opacity="0.8"/><rect x="673.5" y="336.7" width="1.6" height="1.6" fill="#6aa572" opacity="0.8"/><rect x="681.0" y="352.3" width="1.5" height="1.5" fill="#6aa572" opacity="0.8"/><rect x="687.0" y="348.7" width="1.0" height="1.0" fill="#6aa572" opacity="0.8"/><rect x="683.2" y="349.1" width="1.6" height="1.6" fill="#6aa572" opacity="0.8"/><rect x="684.3" y="350.5" width="1.2" height="1.2" fill="#6aa572" opacity="0.8"/><rect x="683.3" y="346.7" width="1.2" height="1.2" fill="#6aa572" opacity="0.8"/><rect x="673.1" y="345.1" width="1.6" height="1.6" fill="#6aa572" opacity="0.8"/><rect x="684.4" y="345.3" width="1.2" height="1.2" fill="#6aa572" opacity="0.8"/><rect x="676.1" y="355.2" width="1.8" height="1.8" fill="#6aa572" opacity="0.8"/><rect x="683.6" y="350.3" width="1.0" height="1.0" fill="#6aa572" opacity="0.8"/><rect x="682.5" y="353.2" width="1.4" height="1.4" fill="#6aa572" opacity="0.8"/><rect x="682.0" y="348.4" width="1.2" height="1.2" fill="#6aa572" opacity="0.8"/><rect x="678.0" y="352.3" width="1.8" height="1.8" fill="#6aa572" opacity="0.8"/><rect x="680.0" y="343.0" width="1.4" height="1.4" fill="#6aa572" opacity="0.8"/><rect x="681.3" y="346.7" width="1.7" height="1.7" fill="#6aa572" opacity="0.8"/><rect x="683.7" y="339.0" width="1.6" height="1.6" fill="#6aa572" opacity="0.8"/><rect x="678.5" y="350.8" width="0.9" height="0.9" fill="#6aa572" opacity="0.8"/><rect x="680.9" y="346.8" width="0.9" height="0.9" fill="#6aa572" opacity="0.8"/><rect x="682.7" y="350.6" width="1.1" height="1.1" fill="#6aa572" opacity="0.8"/><rect x="682.1" y="348.0" width="1.0" height="1.0" fill="#6aa572" opacity="0.8"/><rect x="685.4" y="350.5" width="0.8" height="0.8" fill="#6aa572" opacity="0.8"/><rect x="686.4" y="343.6" width="0.9" height="0.9" fill="#6aa572" opacity="0.8"/><rect x="681.9" y="352.2" width="1.2" height="1.2" fill="#6aa572" opacity="0.8"/><rect x="688.3" y="354.1" width="1.8" height="1.8" fill="#6aa572" opacity="0.8"/><rect x="676.9" y="349.1" width="0.9" height="0.9" fill="#6aa572" opacity="0.8"/><rect x="685.3" y="350.5" width="1.1" height="1.1" fill="#6aa572" opacity="0.8"/><rect x="683.3" y="345.7" width="0.8" height="0.8" fill="#6aa572" opacity="0.8"/><rect x="687.3" y="346.3" width="0.9" height="0.9" fill="#6aa572" opacity="0.8"/><rect x="681.0" y="347.7" width="1.3" height="1.3" fill="#6aa572" opacity="0.8"/><rect x="690.9" y="346.8" width="1.5" height="1.5" fill="#6aa572" opacity="0.8"/><rect x="681.7" y="352.3" width="1.0" height="1.0" fill="#6aa572" opacity="0.8"/><rect x="682.8" y="342.5" width="1.6" height="1.6" fill="#6aa572" opacity="0.8"/><rect x="680.5" y="350.8" width="1.6" height="1.6" fill="#6aa572" opacity="0.8"/><rect x="690.8" y="347.2" width="1.6" height="1.6" fill="#6aa572" opacity="0.8"/><rect x="685.1" y="341.3" width="1.0" height="1.0" fill="#6aa572" opacity="0.8"/><rect x="677.8" y="347.5" width="0.8" height="0.8" fill="#6aa572" opacity="0.8"/><rect x="685.6" y="348.6" width="1.1" height="1.1" fill="#6aa572" opacity="0.8"/><rect x="678.0" y="337.5" width="1.2" height="1.2" fill="#6aa572" opacity="0.8"/><rect x="694.4" y="342.8" width="1.8" height="1.8" fill="#6aa572" opacity="0.8"/><rect x="679.9" y="350.4" width="1.0" height="1.0" fill="#6aa572" opacity="0.8"/><rect x="683.0" y="350.9" width="1.4" height="1.4" fill="#6aa572" opacity="0.8"/><rect x="689.0" y="342.9" width="1.3" height="1.3" fill="#6aa572" opacity="0.8"/><rect x="677.4" y="341.4" width="0.9" height="0.9" fill="#6aa572" opacity="0.8"/><rect x="676.7" y="339.6" width="1.6" height="1.6" fill="#6aa572" opacity="0.8"/><rect x="682.0" y="342.9" width="1.0" height="1.0" fill="#6aa572" opacity="0.8"/><rect x="683.0" y="344.1" width="1.6" height="1.6" fill="#6aa572" opacity="0.8"/>
<rect x="690.1" y="316.2" width="1.2" height="1.2" fill="#6aa572" opacity="0.75"/><rect x="690.9" y="312.7" width="1.0" height="1.0" fill="#6aa572" opacity="0.75"/><rect x="689.1" y="322.1" width="1.7" height="1.7" fill="#6aa572" opacity="0.75"/><rect x="688.8" y="312.7" width="1.6" height="1.6" fill="#6aa572" opacity="0.75"/><rect x="690.8" y="316.2" width="1.2" height="1.2" fill="#6aa572" opacity="0.75"/><rect x="687.7" y="316.4" width="0.8" height="0.8" fill="#6aa572" opacity="0.75"/><rect x="690.8" y="315.4" width="1.3" height="1.3" fill="#6aa572" opacity="0.75"/><rect x="690.1" y="313.7" width="1.7" height="1.7" fill="#6aa572" opacity="0.75"/><rect x="689.0" y="311.9" width="1.1" height="1.1" fill="#6aa572" opacity="0.75"/><rect x="688.2" y="325.1" width="1.4" height="1.4" fill="#6aa572" opacity="0.75"/><rect x="688.4" y="328.4" width="0.9" height="0.9" fill="#6aa572" opacity="0.75"/><rect x="689.8" y="313.0" width="1.3" height="1.3" fill="#6aa572" opacity="0.75"/><rect x="685.5" y="307.2" width="1.2" height="1.2" fill="#6aa572" opacity="0.75"/><rect x="690.1" y="312.2" width="1.3" height="1.3" fill="#6aa572" opacity="0.75"/><rect x="688.2" y="317.7" width="1.2" height="1.2" fill="#6aa572" opacity="0.75"/><rect x="688.6" y="318.8" width="1.6" height="1.6" fill="#6aa572" opacity="0.75"/><rect x="689.3" y="328.0" width="1.5" height="1.5" fill="#6aa572" opacity="0.75"/><rect x="687.2" y="314.9" width="1.3" height="1.3" fill="#6aa572" opacity="0.75"/><rect x="685.9" y="312.0" width="0.9" height="0.9" fill="#6aa572" opacity="0.75"/><rect x="687.4" y="315.2" width="1.1" height="1.1" fill="#6aa572" opacity="0.75"/><rect x="688.8" y="306.2" width="1.4" height="1.4" fill="#6aa572" opacity="0.75"/><rect x="688.7" y="296.0" width="1.2" height="1.2" fill="#6aa572" opacity="0.75"/><rect x="687.1" y="310.3" width="1.3" height="1.3" fill="#6aa572" opacity="0.75"/><rect x="687.9" y="307.7" width="1.3" height="1.3" fill="#6aa572" opacity="0.75"/><rect x="684.7" y="321.3" width="1.5" height="1.5" fill="#6aa572" opacity="0.75"/><rect x="691.2" y="301.3" width="1.1" height="1.1" fill="#6aa572" opacity="0.75"/><rect x="684.9" y="309.2" width="1.6" height="1.6" fill="#6aa572" opacity="0.75"/><rect x="689.0" y="321.9" width="1.2" height="1.2" fill="#6aa572" opacity="0.75"/><rect x="689.6" y="321.3" width="0.9" height="0.9" fill="#6aa572" opacity="0.75"/><rect x="687.1" y="302.7" width="1.7" height="1.7" fill="#6aa572" opacity="0.75"/><rect x="689.9" y="331.1" width="1.5" height="1.5" fill="#6aa572" opacity="0.75"/><rect x="690.6" y="334.2" width="1.8" height="1.8" fill="#6aa572" opacity="0.75"/><rect x="689.3" y="342.2" width="1.2" height="1.2" fill="#6aa572" opacity="0.75"/><rect x="683.7" y="320.4" width="1.6" height="1.6" fill="#6aa572" opacity="0.75"/><rect x="689.4" y="327.0" width="1.3" height="1.3" fill="#6aa572" opacity="0.75"/><rect x="687.9" y="323.6" width="1.1" height="1.1" fill="#6aa572" opacity="0.75"/><rect x="688.4" y="316.0" width="1.4" height="1.4" fill="#6aa572" opacity="0.75"/><rect x="688.2" y="318.7" width="1.1" height="1.1" fill="#6aa572" opacity="0.75"/><rect x="687.1" y="309.6" width="0.9" height="0.9" fill="#6aa572" opacity="0.75"/><rect x="691.3" y="316.4" width="1.8" height="1.8" fill="#6aa572" opacity="0.75"/>
<rect x="675.9" y="330.3" width="0.8" height="0.8" fill="#6aa572" opacity="0.7"/><rect x="675.2" y="316.4" width="0.9" height="0.9" fill="#6aa572" opacity="0.7"/><rect x="672.3" y="336.4" width="1.6" height="1.6" fill="#6aa572" opacity="0.7"/><rect x="675.0" y="331.2" width="1.7" height="1.7" fill="#6aa572" opacity="0.7"/><rect x="673.0" y="317.7" width="0.9" height="0.9" fill="#6aa572" opacity="0.7"/><rect x="677.0" y="330.9" width="1.2" height="1.2" fill="#6aa572" opacity="0.7"/><rect x="678.0" y="336.4" width="1.4" height="1.4" fill="#6aa572" opacity="0.7"/><rect x="675.2" y="320.6" width="1.7" height="1.7" fill="#6aa572" opacity="0.7"/><rect x="677.5" y="333.9" width="1.3" height="1.3" fill="#6aa572" opacity="0.7"/><rect x="674.1" y="336.8" width="1.7" height="1.7" fill="#6aa572" opacity="0.7"/><rect x="674.9" y="330.8" width="1.3" height="1.3" fill="#6aa572" opacity="0.7"/><rect x="675.0" y="330.3" width="1.0" height="1.0" fill="#6aa572" opacity="0.7"/><rect x="675.9" y="327.3" width="1.1" height="1.1" fill="#6aa572" opacity="0.7"/><rect x="674.2" y="342.5" width="1.1" height="1.1" fill="#6aa572" opacity="0.7"/><rect x="674.1" y="325.0" width="1.1" height="1.1" fill="#6aa572" opacity="0.7"/><rect x="676.1" y="326.0" width="0.8" height="0.8" fill="#6aa572" opacity="0.7"/><rect x="674.8" y="311.2" width="1.0" height="1.0" fill="#6aa572" opacity="0.7"/><rect x="671.8" y="329.1" width="0.9" height="0.9" fill="#6aa572" opacity="0.7"/><rect x="675.6" y="314.4" width="1.3" height="1.3" fill="#6aa572" opacity="0.7"/><rect x="675.7" y="315.5" width="1.3" height="1.3" fill="#6aa572" opacity="0.7"/><rect x="673.5" y="296.1" width="1.1" height="1.1" fill="#6aa572" opacity="0.7"/><rect x="676.1" y="310.0" width="1.4" height="1.4" fill="#6aa572" opacity="0.7"/><rect x="673.9" y="330.7" width="0.9" height="0.9" fill="#6aa572" opacity="0.7"/><rect x="675.4" y="328.1" width="1.5" height="1.5" fill="#6aa572" opacity="0.7"/><rect x="675.0" y="331.6" width="0.9" height="0.9" fill="#6aa572" opacity="0.7"/><rect x="676.5" y="306.3" width="1.5" height="1.5" fill="#6aa572" opacity="0.7"/><rect x="674.8" y="333.0" width="1.1" height="1.1" fill="#6aa572" opacity="0.7"/><rect x="674.2" y="326.6" width="1.2" height="1.2" fill="#6aa572" opacity="0.7"/><rect x="674.7" y="353.0" width="1.8" height="1.8" fill="#6aa572" opacity="0.7"/><rect x="674.0" y="322.6" width="1.8" height="1.8" fill="#6aa572" opacity="0.7"/>
<rect x="683.0" y="306.6" width="0.8" height="0.8" fill="#6aa572" opacity="0.6"/><rect x="681.5" y="306.3" width="1.3" height="1.3" fill="#6aa572" opacity="0.6"/><rect x="685.1" y="307.4" width="0.8" height="0.8" fill="#6aa572" opacity="0.6"/><rect x="683.9" y="305.3" width="1.2" height="1.2" fill="#6aa572" opacity="0.6"/><rect x="684.6" y="304.2" width="1.1" height="1.1" fill="#6aa572" opacity="0.6"/><rect x="684.4" y="308.0" width="1.3" height="1.3" fill="#6aa572" opacity="0.6"/><rect x="684.0" y="299.6" width="1.5" height="1.5" fill="#6aa572" opacity="0.6"/><rect x="686.2" y="301.9" width="1.1" height="1.1" fill="#6aa572" opacity="0.6"/><rect x="685.7" y="303.8" width="1.5" height="1.5" fill="#6aa572" opacity="0.6"/><rect x="683.4" y="303.3" width="1.6" height="1.6" fill="#6aa572" opacity="0.6"/><rect x="687.3" y="301.4" width="1.5" height="1.5" fill="#6aa572" opacity="0.6"/><rect x="684.6" y="302.5" width="1.3" height="1.3" fill="#6aa572" opacity="0.6"/><rect x="678.3" y="303.8" width="1.6" height="1.6" fill="#6aa572" opacity="0.6"/><rect x="685.8" y="300.5" width="1.7" height="1.7" fill="#6aa572" opacity="0.6"/><rect x="682.1" y="299.8" width="1.0" height="1.0" fill="#6aa572" opacity="0.6"/><rect x="685.6" y="304.3" width="1.2" height="1.2" fill="#6aa572" opacity="0.6"/><rect x="688.5" y="307.5" width="1.4" height="1.4" fill="#6aa572" opacity="0.6"/><rect x="681.1" y="301.0" width="1.5" height="1.5" fill="#6aa572" opacity="0.6"/>
<rect x="681.6" y="310" width="1" height="29" fill="#6f9d78" opacity="0.7"/>
</g>
<g>
<path d="M682.500 481 L686 490 L691 493 L693 505 L694 515 L688 513 L684 511 L681 512 L676 517 L668 516 L672 507 L673 497 L678 492 Z" fill="#6fae76" opacity="0.5" filter="url(#b2)"/>
<rect x="682.1" y="502.0" width="1.8" height="1.8" fill="#62a76a" opacity="0.8"/><rect x="682.4" y="493.1" width="1.4" height="1.4" fill="#62a76a" opacity="0.8"/><rect x="681.4" y="499.7" width="1.7" height="1.7" fill="#62a76a" opacity="0.8"/><rect x="682.5" y="504.9" width="1.1" height="1.1" fill="#62a76a" opacity="0.8"/><rect x="682.0" y="497.0" width="1.7" height="1.7" fill="#62a76a" opacity="0.8"/><rect x="688.8" y="500.7" width="1.3" height="1.3" fill="#62a76a" opacity="0.8"/><rect x="674.2" y="503.5" width="1.7" height="1.7" fill="#62a76a" opacity="0.8"/><rect x="676.6" y="494.8" width="0.9" height="0.9" fill="#62a76a" opacity="0.8"/><rect x="685.0" y="506.6" width="1.7" height="1.7" fill="#62a76a" opacity="0.8"/><rect x="680.1" y="511.2" width="0.8" height="0.8" fill="#62a76a" opacity="0.8"/><rect x="686.5" y="504.2" width="1.6" height="1.6" fill="#62a76a" opacity="0.8"/><rect x="679.6" y="491.5" width="1.1" height="1.1" fill="#62a76a" opacity="0.8"/><rect x="676.4" y="501.1" width="1.4" height="1.4" fill="#62a76a" opacity="0.8"/><rect x="691.1" y="512.8" width="1.0" height="1.0" fill="#62a76a" opacity="0.8"/><rect x="695.3" y="499.6" width="0.8" height="0.8" fill="#62a76a" opacity="0.8"/><rect x="672.7" y="505.5" width="2.0" height="2.0" fill="#62a76a" opacity="0.8"/><rect x="678.4" y="503.9" width="1.1" height="1.1" fill="#62a76a" opacity="0.8"/><rect x="686.1" y="500.3" width="1.5" height="1.5" fill="#62a76a" opacity="0.8"/><rect x="686.7" y="509.1" width="1.9" height="1.9" fill="#62a76a" opacity="0.8"/><rect x="689.4" y="512.3" width="1.4" height="1.4" fill="#62a76a" opacity="0.8"/><rect x="689.0" y="494.4" width="1.1" height="1.1" fill="#62a76a" opacity="0.8"/><rect x="687.6" y="496.8" width="0.8" height="0.8" fill="#62a76a" opacity="0.8"/><rect x="688.9" y="502.2" width="1.3" height="1.3" fill="#62a76a" opacity="0.8"/><rect x="681.5" y="505.9" width="1.2" height="1.2" fill="#62a76a" opacity="0.8"/><rect x="678.3" y="515.1" width="0.8" height="0.8" fill="#62a76a" opacity="0.8"/><rect x="682.5" y="487.7" width="0.9" height="0.9" fill="#62a76a" opacity="0.8"/><rect x="690.3" y="496.7" width="1.9" height="1.9" fill="#62a76a" opacity="0.8"/><rect x="681.2" y="509.0" width="1.3" height="1.3" fill="#62a76a" opacity="0.8"/><rect x="689.8" y="501.9" width="1.2" height="1.2" fill="#62a76a" opacity="0.8"/><rect x="678.5" y="504.6" width="0.9" height="0.9" fill="#62a76a" opacity="0.8"/><rect x="690.9" y="510.5" width="1.1" height="1.1" fill="#62a76a" opacity="0.8"/><rect x="686.3" y="499.8" width="1.1" height="1.1" fill="#62a76a" opacity="0.8"/><rect x="678.9" y="501.7" width="1.2" height="1.2" fill="#62a76a" opacity="0.8"/><rect x="693.5" y="497.8" width="1.8" height="1.8" fill="#62a76a" opacity="0.8"/><rect x="674.2" y="489.8" width="1.9" height="1.9" fill="#62a76a" opacity="0.8"/><rect x="674.1" y="498.4" width="0.9" height="0.9" fill="#62a76a" opacity="0.8"/><rect x="681.8" y="493.8" width="1.7" height="1.7" fill="#62a76a" opacity="0.8"/><rect x="679.7" y="497.1" width="0.9" height="0.9" fill="#62a76a" opacity="0.8"/><rect x="685.1" y="500.3" width="1.4" height="1.4" fill="#62a76a" opacity="0.8"/><rect x="679.9" y="507.2" width="1.7" height="1.7" fill="#62a76a" opacity="0.8"/><rect x="686.7" y="501.1" width="1.6" height="1.6" fill="#62a76a" opacity="0.8"/><rect x="680.3" y="511.1" width="1.3" height="1.3" fill="#62a76a" opacity="0.8"/><rect x="684.1" y="505.9" width="1.0" height="1.0" fill="#62a76a" opacity="0.8"/><rect x="687.9" y="497.1" width="1.1" height="1.1" fill="#62a76a" opacity="0.8"/><rect x="697.9" y="488.0" width="1.3" height="1.3" fill="#62a76a" opacity="0.8"/><rect x="684.8" y="505.8" width="0.9" height="0.9" fill="#62a76a" opacity="0.8"/><rect x="681.2" y="504.7" width="1.1" height="1.1" fill="#62a76a" opacity="0.8"/><rect x="682.1" y="511.7" width="1.9" height="1.9" fill="#62a76a" opacity="0.8"/><rect x="682.5" y="494.3" width="1.3" height="1.3" fill="#62a76a" opacity="0.8"/><rect x="677.2" y="500.9" width="1.2" height="1.2" fill="#62a76a" opacity="0.8"/><rect x="686.6" y="504.3" width="2.0" height="2.0" fill="#62a76a" opacity="0.8"/><rect x="687.1" y="508.3" width="1.6" height="1.6" fill="#62a76a" opacity="0.8"/><rect x="685.0" y="498.0" width="1.1" height="1.1" fill="#62a76a" opacity="0.8"/><rect x="682.6" y="509.6" width="1.3" height="1.3" fill="#62a76a" opacity="0.8"/><rect x="692.7" y="497.8" width="1.8" height="1.8" fill="#62a76a" opacity="0.8"/><rect x="683.9" y="502.3" width="1.7" height="1.7" fill="#62a76a" opacity="0.8"/><rect x="687.4" y="496.8" width="1.5" height="1.5" fill="#62a76a" opacity="0.8"/><rect x="688.0" y="502.0" width="1.9" height="1.9" fill="#62a76a" opacity="0.8"/><rect x="687.4" y="488.9" width="2.0" height="2.0" fill="#62a76a" opacity="0.8"/><rect x="682.5" y="505.6" width="1.0" height="1.0" fill="#62a76a" opacity="0.8"/><rect x="674.3" y="500.4" width="1.9" height="1.9" fill="#62a76a" opacity="0.8"/><rect x="681.1" y="491.3" width="1.7" height="1.7" fill="#62a76a" opacity="0.8"/><rect x="675.8" y="504.5" width="0.8" height="0.8" fill="#62a76a" opacity="0.8"/><rect x="683.3" y="496.7" width="1.9" height="1.9" fill="#62a76a" opacity="0.8"/><rect x="679.6" y="496.9" width="1.0" height="1.0" fill="#62a76a" opacity="0.8"/><rect x="682.4" y="512.7" width="1.6" height="1.6" fill="#62a76a" opacity="0.8"/><rect x="684.1" y="503.9" width="1.4" height="1.4" fill="#62a76a" opacity="0.8"/><rect x="677.8" y="498.3" width="1.1" height="1.1" fill="#62a76a" opacity="0.8"/><rect x="681.9" y="501.4" width="1.2" height="1.2" fill="#62a76a" opacity="0.8"/><rect x="669.0" y="506.6" width="1.6" height="1.6" fill="#62a76a" opacity="0.8"/><rect x="687.2" y="496.3" width="1.1" height="1.1" fill="#62a76a" opacity="0.8"/><rect x="682.8" y="521.1" width="1.6" height="1.6" fill="#62a76a" opacity="0.8"/><rect x="682.1" y="503.5" width="1.4" height="1.4" fill="#62a76a" opacity="0.8"/><rect x="679.9" y="495.0" width="1.1" height="1.1" fill="#62a76a" opacity="0.8"/><rect x="676.3" y="487.2" width="1.1" height="1.1" fill="#62a76a" opacity="0.8"/><rect x="687.4" y="503.4" width="1.3" height="1.3" fill="#62a76a" opacity="0.8"/><rect x="681.0" y="497.5" width="1.8" height="1.8" fill="#62a76a" opacity="0.8"/><rect x="682.1" y="493.1" width="1.0" height="1.0" fill="#62a76a" opacity="0.8"/><rect x="687.2" y="500.8" width="1.8" height="1.8" fill="#62a76a" opacity="0.8"/><rect x="683.0" y="507.3" width="1.7" height="1.7" fill="#62a76a" opacity="0.8"/><rect x="678.7" y="519.7" width="1.4" height="1.4" fill="#62a76a" opacity="0.8"/><rect x="684.0" y="506.9" width="1.3" height="1.3" fill="#62a76a" opacity="0.8"/><rect x="675.7" y="486.2" width="1.0" height="1.0" fill="#62a76a" opacity="0.8"/><rect x="679.5" y="505.2" width="2.0" height="2.0" fill="#62a76a" opacity="0.8"/><rect x="683.6" y="503.9" width="0.9" height="0.9" fill="#62a76a" opacity="0.8"/><rect x="673.3" y="512.0" width="1.9" height="1.9" fill="#62a76a" opacity="0.8"/><rect x="680.4" y="476.2" width="1.9" height="1.9" fill="#62a76a" opacity="0.8"/><rect x="680.8" y="506.2" width="1.9" height="1.9" fill="#62a76a" opacity="0.8"/><rect x="682.5" y="500.1" width="1.6" height="1.6" fill="#62a76a" opacity="0.8"/><rect x="678.7" y="507.0" width="1.2" height="1.2" fill="#62a76a" opacity="0.8"/><rect x="682.7" y="502.5" width="1.1" height="1.1" fill="#62a76a" opacity="0.8"/><rect x="674.3" y="517.0" width="0.9" height="0.9" fill="#62a76a" opacity="0.8"/><rect x="686.2" y="500.9" width="1.2" height="1.2" fill="#62a76a" opacity="0.8"/><rect x="686.9" y="489.5" width="1.3" height="1.3" fill="#62a76a" opacity="0.8"/><rect x="688.4" y="504.6" width="1.2" height="1.2" fill="#62a76a" opacity="0.8"/><rect x="685.7" y="499.6" width="1.2" height="1.2" fill="#62a76a" opacity="0.8"/><rect x="683.6" y="500.9" width="1.3" height="1.3" fill="#62a76a" opacity="0.8"/><rect x="686.1" y="490.2" width="0.8" height="0.8" fill="#62a76a" opacity="0.8"/><rect x="684.4" y="502.6" width="1.9" height="1.9" fill="#62a76a" opacity="0.8"/><rect x="682.1" y="514.4" width="1.9" height="1.9" fill="#62a76a" opacity="0.8"/><rect x="680.2" y="507.1" width="1.9" height="1.9" fill="#62a76a" opacity="0.8"/><rect x="679.3" y="498.1" width="1.7" height="1.7" fill="#62a76a" opacity="0.8"/><rect x="680.7" y="507.5" width="0.8" height="0.8" fill="#62a76a" opacity="0.8"/><rect x="682.9" y="485.3" width="1.6" height="1.6" fill="#62a76a" opacity="0.8"/><rect x="683.6" y="501.4" width="1.1" height="1.1" fill="#62a76a" opacity="0.8"/><rect x="668.9" y="504.9" width="1.9" height="1.9" fill="#62a76a" opacity="0.8"/><rect x="679.3" y="505.7" width="1.3" height="1.3" fill="#62a76a" opacity="0.8"/><rect x="669.9" y="502.7" width="1.0" height="1.0" fill="#62a76a" opacity="0.8"/><rect x="685.4" y="490.4" width="1.8" height="1.8" fill="#62a76a" opacity="0.8"/><rect x="683.6" y="491.9" width="1.2" height="1.2" fill="#62a76a" opacity="0.8"/><rect x="680.3" y="508.4" width="1.7" height="1.7" fill="#62a76a" opacity="0.8"/><rect x="685.7" y="504.4" width="1.7" height="1.7" fill="#62a76a" opacity="0.8"/><rect x="682.5" y="504.7" width="0.8" height="0.8" fill="#62a76a" opacity="0.8"/><rect x="677.9" y="499.8" width="2.0" height="2.0" fill="#62a76a" opacity="0.8"/><rect x="694.6" y="487.1" width="1.1" height="1.1" fill="#62a76a" opacity="0.8"/><rect x="684.6" y="503.7" width="1.4" height="1.4" fill="#62a76a" opacity="0.8"/><rect x="681.0" y="494.1" width="1.1" height="1.1" fill="#62a76a" opacity="0.8"/><rect x="675.9" y="507.2" width="1.6" height="1.6" fill="#62a76a" opacity="0.8"/><rect x="682.4" y="487.5" width="1.6" height="1.6" fill="#62a76a" opacity="0.8"/><rect x="690.1" y="511.9" width="1.2" height="1.2" fill="#62a76a" opacity="0.8"/>
<rect x="670.9" y="510.8" width="1.5" height="1.5" fill="#62a76a" opacity="0.7"/><rect x="674.8" y="514.1" width="1.0" height="1.0" fill="#62a76a" opacity="0.7"/><rect x="678.1" y="517.1" width="1.4" height="1.4" fill="#62a76a" opacity="0.7"/><rect x="672.4" y="514.7" width="1.8" height="1.8" fill="#62a76a" opacity="0.7"/><rect x="671.5" y="511.9" width="1.6" height="1.6" fill="#62a76a" opacity="0.7"/><rect x="667.9" y="504.4" width="0.9" height="0.9" fill="#62a76a" opacity="0.7"/><rect x="667.6" y="512.9" width="1.6" height="1.6" fill="#62a76a" opacity="0.7"/><rect x="674.9" y="511.6" width="1.1" height="1.1" fill="#62a76a" opacity="0.7"/><rect x="675.7" y="513.3" width="1.8" height="1.8" fill="#62a76a" opacity="0.7"/><rect x="667.0" y="508.5" width="1.2" height="1.2" fill="#62a76a" opacity="0.7"/><rect x="676.5" y="509.6" width="1.1" height="1.1" fill="#62a76a" opacity="0.7"/><rect x="675.5" y="504.9" width="0.9" height="0.9" fill="#62a76a" opacity="0.7"/><rect x="670.0" y="509.6" width="1.0" height="1.0" fill="#62a76a" opacity="0.7"/><rect x="672.7" y="513.2" width="1.0" height="1.0" fill="#62a76a" opacity="0.7"/><rect x="673.9" y="516.1" width="1.5" height="1.5" fill="#62a76a" opacity="0.7"/><rect x="674.2" y="512.4" width="1.1" height="1.1" fill="#62a76a" opacity="0.7"/><rect x="673.0" y="510.3" width="1.1" height="1.1" fill="#62a76a" opacity="0.7"/><rect x="675.8" y="517.1" width="1.3" height="1.3" fill="#62a76a" opacity="0.7"/><rect x="675.5" y="512.5" width="1.2" height="1.2" fill="#62a76a" opacity="0.7"/><rect x="669.2" y="510.7" width="0.9" height="0.9" fill="#62a76a" opacity="0.7"/><rect x="676.8" y="516.0" width="1.2" height="1.2" fill="#62a76a" opacity="0.7"/><rect x="673.4" y="514.5" width="1.8" height="1.8" fill="#62a76a" opacity="0.7"/><rect x="672.3" y="515.6" width="1.2" height="1.2" fill="#62a76a" opacity="0.7"/><rect x="667.9" y="515.0" width="1.8" height="1.8" fill="#62a76a" opacity="0.7"/><rect x="672.5" y="513.5" width="1.5" height="1.5" fill="#62a76a" opacity="0.7"/><rect x="674.1" y="512.3" width="1.7" height="1.7" fill="#62a76a" opacity="0.7"/><rect x="668.2" y="514.6" width="1.2" height="1.2" fill="#62a76a" opacity="0.7"/><rect x="676.9" y="509.8" width="1.0" height="1.0" fill="#62a76a" opacity="0.7"/><rect x="678.4" y="512.4" width="1.4" height="1.4" fill="#62a76a" opacity="0.7"/><rect x="675.3" y="511.3" width="1.4" height="1.4" fill="#62a76a" opacity="0.7"/><rect x="671.1" y="514.6" width="0.9" height="0.9" fill="#62a76a" opacity="0.7"/><rect x="673.1" y="515.6" width="1.7" height="1.7" fill="#62a76a" opacity="0.7"/><rect x="677.2" y="514.2" width="1.6" height="1.6" fill="#62a76a" opacity="0.7"/><rect x="676.3" y="511.6" width="0.9" height="0.9" fill="#62a76a" opacity="0.7"/><rect x="682.9" y="509.1" width="1.3" height="1.3" fill="#62a76a" opacity="0.7"/><rect x="681.5" y="514.3" width="1.2" height="1.2" fill="#62a76a" opacity="0.7"/><rect x="678.0" y="509.6" width="1.6" height="1.6" fill="#62a76a" opacity="0.7"/><rect x="677.3" y="516.5" width="1.0" height="1.0" fill="#62a76a" opacity="0.7"/><rect x="668.4" y="515.3" width="1.6" height="1.6" fill="#62a76a" opacity="0.7"/><rect x="675.0" y="513.9" width="1.2" height="1.2" fill="#62a76a" opacity="0.7"/>
<rect x="678.1" y="499.2" width="0.8" height="0.8" fill="#2e3a48" opacity="0.55"/><rect x="682.6" y="511.2" width="1.3" height="1.3" fill="#2e3a48" opacity="0.55"/><rect x="688.1" y="502.3" width="1.2" height="1.2" fill="#2e3a48" opacity="0.55"/><rect x="690.8" y="503.2" width="0.8" height="0.8" fill="#2e3a48" opacity="0.55"/><rect x="677.9" y="494.8" width="1.1" height="1.1" fill="#2e3a48" opacity="0.55"/><rect x="680.9" y="506.9" width="1.1" height="1.1" fill="#2e3a48" opacity="0.55"/><rect x="676.6" y="504.6" width="1.0" height="1.0" fill="#2e3a48" opacity="0.55"/><rect x="681.6" y="500.6" width="1.1" height="1.1" fill="#2e3a48" opacity="0.55"/><rect x="679.2" y="500.3" width="1.2" height="1.2" fill="#2e3a48" opacity="0.55"/><rect x="683.4" y="492.4" width="0.8" height="0.8" fill="#2e3a48" opacity="0.55"/><rect x="680.4" y="500.6" width="0.8" height="0.8" fill="#2e3a48" opacity="0.55"/><rect x="680.7" y="501.3" width="1.0" height="1.0" fill="#2e3a48" opacity="0.55"/><rect x="681.2" y="499.9" width="1.1" height="1.1" fill="#2e3a48" opacity="0.55"/><rect x="688.9" y="505.6" width="1.2" height="1.2" fill="#2e3a48" opacity="0.55"/><rect x="681.0" y="499.8" width="1.1" height="1.1" fill="#2e3a48" opacity="0.55"/><rect x="674.5" y="511.9" width="0.8" height="0.8" fill="#2e3a48" opacity="0.55"/><rect x="691.8" y="481.8" width="1.2" height="1.2" fill="#2e3a48" opacity="0.55"/><rect x="683.7" y="495.8" width="1.4" height="1.4" fill="#2e3a48" opacity="0.55"/><rect x="671.2" y="500.9" width="1.3" height="1.3" fill="#2e3a48" opacity="0.55"/><rect x="686.5" y="510.6" width="1.4" height="1.4" fill="#2e3a48" opacity="0.55"/><rect x="686.3" y="502.6" width="1.2" height="1.2" fill="#2e3a48" opacity="0.55"/><rect x="687.7" y="512.5" width="0.9" height="0.9" fill="#2e3a48" opacity="0.55"/><rect x="683.5" y="496.4" width="1.1" height="1.1" fill="#2e3a48" opacity="0.55"/><rect x="685.2" y="497.7" width="0.9" height="0.9" fill="#2e3a48" opacity="0.55"/><rect x="678.6" y="499.8" width="0.7" height="0.7" fill="#2e3a48" opacity="0.55"/><rect x="683.6" y="503.8" width="1.4" height="1.4" fill="#2e3a48" opacity="0.55"/><rect x="678.4" y="486.6" width="0.8" height="0.8" fill="#2e3a48" opacity="0.55"/><rect x="683.0" y="496.6" width="1.1" height="1.1" fill="#2e3a48" opacity="0.55"/><rect x="679.7" y="495.0" width="1.3" height="1.3" fill="#2e3a48" opacity="0.55"/><rect x="676.9" y="496.9" width="1.3" height="1.3" fill="#2e3a48" opacity="0.55"/><rect x="693.7" y="513.5" width="1.1" height="1.1" fill="#2e3a48" opacity="0.55"/><rect x="676.2" y="507.7" width="0.9" height="0.9" fill="#2e3a48" opacity="0.55"/><rect x="688.4" y="499.5" width="1.0" height="1.0" fill="#2e3a48" opacity="0.55"/><rect x="682.9" y="492.5" width="0.8" height="0.8" fill="#2e3a48" opacity="0.55"/><rect x="682.4" y="497.8" width="1.3" height="1.3" fill="#2e3a48" opacity="0.55"/><rect x="682.4" y="510.0" width="1.4" height="1.4" fill="#2e3a48" opacity="0.55"/><rect x="676.8" y="494.7" width="0.9" height="0.9" fill="#2e3a48" opacity="0.55"/><rect x="683.7" y="500.0" width="0.8" height="0.8" fill="#2e3a48" opacity="0.55"/><rect x="678.9" y="495.0" width="1.1" height="1.1" fill="#2e3a48" opacity="0.55"/><rect x="684.4" y="497.7" width="0.9" height="0.9" fill="#2e3a48" opacity="0.55"/>
</g>
<g stroke="#3fd35f" stroke-width="2.2" stroke-linecap="butt" fill="none">
<path d="M512 276 L767 461"/><path d="M686 274 L430 461"/>
<path d="M580.4 406.5 V576"/>
<path d="M593.4 406.5 V576"/>
<path d="M606.4 406.5 V576"/>
<path d="M619.5 406.5 V576"/>
</g>
</g>
<rect x="395.8" y="242" width="8.9" height="352" fill="#fefefe"/>
<circle cx="400.5" cy="405" r="40.5" fill="#fefefe"/>
<g>
<ellipse cx="400.300" cy="404.700" rx="26.600" ry="26.800" fill="#323d50"/>
<ellipse cx="400.300" cy="404.700" rx="22" ry="22" fill="#3c485f"/>
<ellipse cx="400" cy="404.600" rx="16.400" ry="16.400" fill="#e9edf2"/>
<ellipse cx="400" cy="404.600" rx="14.600" ry="14.600" fill="#4b5870"/>

<ellipse cx="410.2" cy="406.0" rx="3.3" ry="2.5" transform="rotate(8 410.2 406.0)" fill="#e9edf2"/>
<ellipse cx="406.2" cy="412.8" rx="3.3" ry="2.5" transform="rotate(53 406.2 412.8)" fill="#e9edf2"/>
<ellipse cx="398.6" cy="414.8" rx="3.3" ry="2.5" transform="rotate(98 398.6 414.8)" fill="#e9edf2"/>
<ellipse cx="391.8" cy="410.8" rx="3.3" ry="2.5" transform="rotate(143 391.8 410.8)" fill="#e9edf2"/>
<ellipse cx="389.8" cy="403.2" rx="3.3" ry="2.5" transform="rotate(188 389.8 403.2)" fill="#e9edf2"/>
<ellipse cx="393.8" cy="396.4" rx="3.3" ry="2.5" transform="rotate(233 393.8 396.4)" fill="#e9edf2"/>
<ellipse cx="401.4" cy="394.4" rx="3.3" ry="2.5" transform="rotate(278 401.4 394.4)" fill="#e9edf2"/>
<ellipse cx="408.2" cy="398.4" rx="3.3" ry="2.5" transform="rotate(323 408.2 398.4)" fill="#e9edf2"/>
<circle cx="400" cy="404.500" r="5" fill="#eef1f5"/>
<g>
<path d="M405 419.500 v12 a16.500 4.300 0 0 0 33 0 v-12 Z" fill="#3f4b62" stroke="#fefefe" stroke-width="1"/>
<ellipse cx="421.500" cy="419.500" rx="16.500" ry="4.500" fill="#414d65" stroke="#fefefe" stroke-width="0.9"/>
<path d="M405 424 a16.500 4.300 0 0 0 33 0 M405 428 a16.500 4.300 0 0 0 33 0" fill="none" stroke="#5a667e" stroke-width="0.8"/>
<path d="M411 419.200 q5 -2 10 -0.300 q5 1.500 10 -0.200" fill="none" stroke="#cfd7e3" stroke-width="1.500" stroke-linecap="round"/>
</g>
<g transform="translate(432.300,363.700) rotate(36)">
<path d="M-6.300 8 L-5.200 40.500 a5.200 5.200 0 0 0 10.400 0 L6.300 8 Z" fill="#4d5a77"/>
<rect x="-2.200" y="16" width="4.400" height="25" rx="2.200" fill="#b9c5d9"/>
<path d="M-8.400 -12.400 A15 15 0 1 0 8.400 -12.400 Q7 -14.400 5.200 -12.900 L4.900 -2 A4.900 4.900 0 0 1 -4.900 -2 L-5.200 -12.900 Q-7 -14.400 -8.400 -12.400 Z" fill="#4d5a77"/>
</g>
</g>
</g></svg>
<div class="t" id="t1" style="left:27px;top:202.9px;">TIRE BALANCING</div>
<div class="t" id="t2" style="left:468.5px;top:202.9px;">WHEEL ALIGNMENT</div>
</body></html>
